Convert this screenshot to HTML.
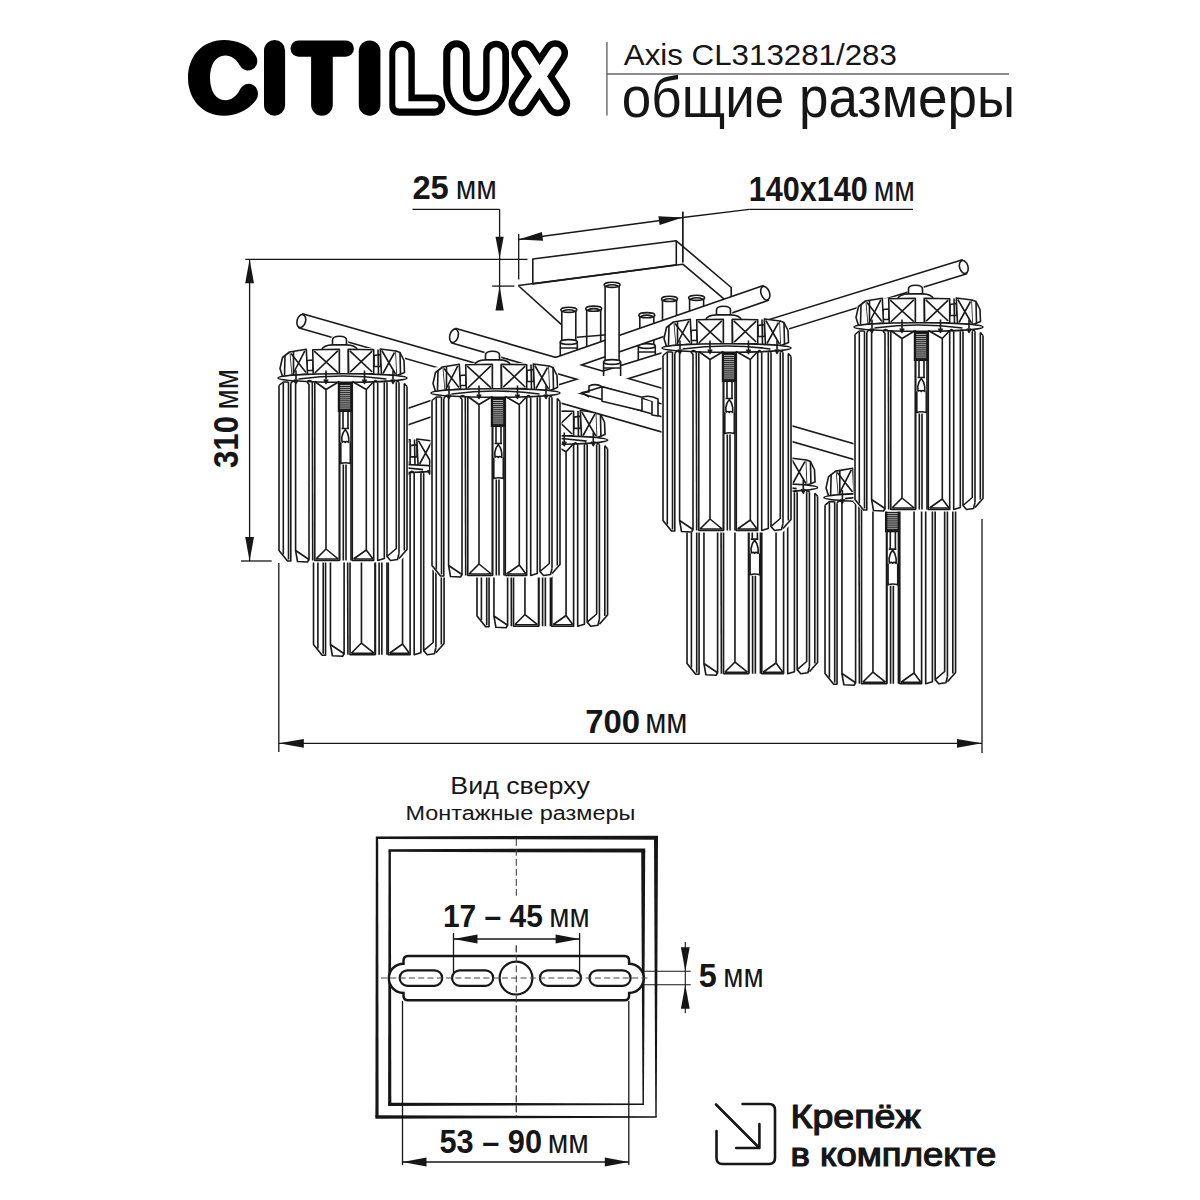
<!DOCTYPE html>
<html><head><meta charset="utf-8"><style>
html,body{margin:0;padding:0;background:#fff;width:1200px;height:1200px;overflow:hidden}
svg{display:block;font-family:"Liberation Sans",sans-serif}
</style></head><body>
<svg width="1200" height="1200" viewBox="0 0 1200 1200">
<rect width="1200" height="1200" fill="#fff"/>
<path d="M257.3 61 C257.3 66.5 253 70.5 248 70.5 C244 70.5 241.5 68 239.5 65 C236.5 59.5 231.5 55.5 225.3 55.5 C215.5 55.5 210 65 210 77.8 C210 90.5 215.5 100.2 225.3 100.2 C231.5 100.2 236 96 239 91.5 C241 87 244.5 83.8 248.5 83.8 C253.8 83.8 258 88.2 258 94 C258 97 256.5 100 254 102.5 C247 110.5 236 115.7 224 115.7 C202 115.7 188 99 188 77.8 C188 56.5 202 40 224 40 C237 40 248 45 254 53 C256 55.5 257.3 58 257.3 61 Z" fill="#000"/>
<line x1="274.55" y1="50.45" x2="274.55" y2="105.15" stroke="#000" stroke-width="21.1" stroke-linecap="round"/>
<line x1="298.65" y1="48.55" x2="345.75" y2="48.55" stroke="#000" stroke-width="16.3" stroke-linecap="round"/>
<line x1="321.95" y1="52" x2="321.95" y2="104.85" stroke="#000" stroke-width="21.7" stroke-linecap="round"/>
<line x1="369.6" y1="51.2" x2="369.6" y2="104.9" stroke="#000" stroke-width="21.6" stroke-linecap="round"/>
<path d="M389.3 53.5 A12.75 12.75 0 0 1 414.8 53.5 L414.8 94.5 L434.7 94.5 A10.6 10.6 0 0 1 434.7 115.7 L400 115.7 Q389.3 115.7 389.3 105 Z" fill="#000"/>
<path d="M443.2 53.5 A13.25 13.25 0 0 1 469.7 53.5 L469.7 88.5 A6.75 6.75 0 0 0 483.2 88.5 L483.2 53.5 A12.9 12.9 0 0 1 509 53.5 L509 84 C509 103 494 115.7 476.1 115.7 C458.2 115.7 443.2 103 443.2 84 Z" fill="#000"/>
<path d="M524.1 53 L557.4 103.5" fill="none" stroke="#000" stroke-width="25.5" stroke-linecap="round"/>
<path d="M555.3 53 L521.3 103.5" fill="none" stroke="#000" stroke-width="25.5" stroke-linecap="round"/>
<path d="M395.3 53.5 A6.55 6.55 0 0 1 408.4 53.5 L408.4 101.2 L434.9 101.2 A3.6 3.6 0 0 1 434.9 108.4 L399.3 108.4 Q395.3 108.4 395.3 104.4 Z" fill="#fff"/>
<path d="M450.3 53.65 A6.35 6.35 0 0 1 463 53.65 L463 88 C463 96 468 101.6 476.3 101.6 C484.6 101.6 489.6 96 489.6 88 L489.6 53.65 A6.35 6.35 0 0 1 502.3 53.65 L502.3 84 C502.3 100 491 110 476.3 110 C461.6 110 450.3 100 450.3 84 Z" fill="#fff"/>
<path d="M524.1 53 L557.4 103.5" fill="none" stroke="#fff" stroke-width="12.5" stroke-linecap="round"/>
<path d="M555.3 53 L521.3 103.5" fill="none" stroke="#fff" stroke-width="12.5" stroke-linecap="round"/>
<line x1="606.9" y1="42" x2="606.9" y2="115.5" stroke="#888" stroke-width="1.8"/>
<line x1="607" y1="74" x2="1009" y2="74" stroke="#666" stroke-width="1.6"/>
<text x="623.79" y="64.8" font-size="30" textLength="273.13" lengthAdjust="spacingAndGlyphs" fill="#161616">Axis CL313281/283</text>
<text x="621.86" y="116.6" font-size="56.5" textLength="393.23" lengthAdjust="spacingAndGlyphs" fill="#161616">общие размеры</text>
<text x="412.41" y="198.8" font-size="32.65" font-weight="bold" textLength="36.42" lengthAdjust="spacingAndGlyphs" fill="#161616">25</text><text x="455.8" y="198.8" font-size="33.63" textLength="41.12" lengthAdjust="spacingAndGlyphs" fill="#161616">мм</text>
<text x="748.74" y="201.2" font-size="34.16" font-weight="bold" textLength="118.94" lengthAdjust="spacingAndGlyphs" fill="#161616">140x140</text><text x="873.69" y="201.2" font-size="35.18" textLength="41.34" lengthAdjust="spacingAndGlyphs" fill="#161616">мм</text>
<text x="585.25" y="732.8" font-size="34.02" font-weight="bold" textLength="54.91" lengthAdjust="spacingAndGlyphs" fill="#161616">700</text><text x="645.13" y="732.8" font-size="35.04" textLength="42.32" lengthAdjust="spacingAndGlyphs" fill="#161616">мм</text>
<text x="442.93" y="927.1" font-size="32.24" font-weight="bold" textLength="99.92" lengthAdjust="spacingAndGlyphs" fill="#161616">17 – 45</text><text x="549.36" y="927.1" font-size="33.20" textLength="40.42" lengthAdjust="spacingAndGlyphs" fill="#161616">мм</text>
<text x="698.82" y="986.7" font-size="32.92" font-weight="bold" textLength="18.01" lengthAdjust="spacingAndGlyphs" fill="#161616">5</text><text x="723.36" y="986.7" font-size="33.91" textLength="40.42" lengthAdjust="spacingAndGlyphs" fill="#161616">мм</text>
<text x="439.51" y="1152.5" font-size="32.51" font-weight="bold" textLength="102.56" lengthAdjust="spacingAndGlyphs" fill="#161616">53 – 90</text><text x="547.73" y="1152.5" font-size="33.49" textLength="41.12" lengthAdjust="spacingAndGlyphs" fill="#161616">мм</text>
<g transform="translate(238 466.5) rotate(-90)"><text x="-1.6" y="0" font-size="34.29" font-weight="bold" textLength="52.20" lengthAdjust="spacingAndGlyphs" fill="#161616">310</text><text x="57.06" y="0" font-size="35.32" textLength="40.65" lengthAdjust="spacingAndGlyphs" fill="#161616">мм</text></g>
<line x1="412.5" y1="209.3" x2="499.6" y2="209.3" stroke="#161616" stroke-width="1.3" /><line x1="499.6" y1="209.3" x2="499.6" y2="259.0" stroke="#161616" stroke-width="1.3" />
<polygon points="499.6,258.5 495.5,236.8 503.7,236.8" fill="#161616"/>
<line x1="499.6" y1="258.0" x2="499.6" y2="310.0" stroke="#161616" stroke-width="1.3" /><polygon points="499.6,286.1 503.7,310.6 495.5,310.6" fill="#161616"/>
<line x1="492.2" y1="286.1" x2="514.4" y2="286.1" stroke="#161616" stroke-width="1.3" />
<line x1="518.7" y1="234.0" x2="518.7" y2="279.6" stroke="#161616" stroke-width="1.3" /><line x1="682.8" y1="211.7" x2="682.8" y2="262.4" stroke="#161616" stroke-width="1.3" />
<line x1="518.7" y1="239.5" x2="682.8" y2="217.5" stroke="#161616" stroke-width="1.3" /><polygon points="518.7,239.5 541.9,231.9 543.1,240.7" fill="#161616"/><polygon points="682.8,217.5 659.6,225.1 658.4,216.3" fill="#161616"/>
<line x1="682.8" y1="217.5" x2="749.3" y2="209.4" stroke="#161616" stroke-width="1.3" /><line x1="749.3" y1="209.4" x2="913.0" y2="209.4" stroke="#161616" stroke-width="1.3" />
<line x1="245.3" y1="259.3" x2="527.5" y2="259.3" stroke="#161616" stroke-width="1.3" /><line x1="249.6" y1="259.3" x2="249.6" y2="561.0" stroke="#161616" stroke-width="1.3" /><polygon points="249.6,259.3 254.0,283.3 245.2,283.3" fill="#161616"/><polygon points="249.6,561.0 245.2,537.0 254.0,537.0" fill="#161616"/>
<line x1="241.0" y1="561.0" x2="271.7" y2="561.0" stroke="#161616" stroke-width="1.3" />
<line x1="278.8" y1="563.0" x2="278.8" y2="752.0" stroke="#161616" stroke-width="1.3" /><line x1="982.0" y1="519.0" x2="982.0" y2="753.0" stroke="#161616" stroke-width="1.3" /><line x1="278.8" y1="743.3" x2="982.0" y2="743.3" stroke="#161616" stroke-width="1.3" /><polygon points="278.8,743.3 303.8,738.9 303.8,747.7" fill="#161616"/><polygon points="982.0,743.3 957.0,747.7 957.0,738.9" fill="#161616"/>
<text x="450.36" y="793.8" font-size="23" textLength="139.45" lengthAdjust="spacingAndGlyphs" fill="#161616">Вид сверху</text>
<text x="405.47" y="820.2" font-size="19.6" textLength="229.87" lengthAdjust="spacingAndGlyphs" fill="#161616">Монтажные размеры</text>
<polygon points="375.85,836.4000000000001 658.0,835.7 658.0,839.7 375.85,839.0" fill="#161616"/><polygon points="375.85,837.7 378.15,837.7 378.6,1117 375.4,1117" fill="#161616"/><polygon points="654.0,837.7 658.0,837.7 656.7,1117 655.3,1117" fill="#161616"/><polygon points="375.4,1115.35 656.7,1116.2 656.7,1117.8 375.4,1118.65" fill="#161616"/>
<polygon points="388.55,849.2 645.2,848.4 645.2,852.6 388.55,851.8" fill="#161616"/><polygon points="388.55,850.5 390.84999999999997,850.5 391.3,1104.3 388.09999999999997,1104.3" fill="#161616"/><polygon points="641.2,850.5 645.2,850.5 643.9000000000001,1104.3 642.5,1104.3" fill="#161616"/><polygon points="388.09999999999997,1102.6499999999999 643.9000000000001,1103.5 643.9000000000001,1105.1 388.09999999999997,1105.95" fill="#161616"/>
<line x1="516.3" y1="839.0" x2="516.3" y2="898.5" stroke="#444" stroke-width="1.1" stroke-dasharray="6.7 3.3"/>
<line x1="516.3" y1="945.5" x2="516.3" y2="1116.0" stroke="#444" stroke-width="1.1" stroke-dasharray="6.7 3.3"/>
<path d="M408 956 L624.6 956 Q629.1 956 629.1 961 L629.1 963.7 A14.6 14.6 0 0 1 629.1 993 L629.1 995.5 Q629.1 1000.3 624.6 1000.3 L408 1000.3 Q403.5 1000.3 403.5 995.5 L403.5 993 A14.6 14.6 0 0 1 403.5 963.7 L403.5 961 Q403.5 956 408 956 Z" fill="#fff" stroke="#161616" stroke-width="2.5"/>
<rect x="399.7" y="970.3" width="42.5" height="15.5" rx="7.75" fill="#fff" stroke="#161616" stroke-width="2.2"/>
<rect x="452.1" y="970.3" width="41.099999999999966" height="15.5" rx="7.75" fill="#fff" stroke="#161616" stroke-width="2.2"/>
<rect x="539.9" y="970.3" width="41.10000000000002" height="15.5" rx="7.75" fill="#fff" stroke="#161616" stroke-width="2.2"/>
<rect x="589.5" y="970.3" width="41.10000000000002" height="15.5" rx="7.75" fill="#fff" stroke="#161616" stroke-width="2.2"/>
<circle cx="516" cy="978.1" r="16.4" fill="#fff" stroke="#161616" stroke-width="2.2"/>
<line x1="381.0" y1="978.0" x2="650.0" y2="978.0" stroke="#444" stroke-width="1.1" stroke-dasharray="6 3.3"/>
<line x1="516.3" y1="945.5" x2="516.3" y2="1116.0" stroke="#444" stroke-width="1.1" stroke-dasharray="6.7 3.3"/>
<line x1="453.5" y1="933.0" x2="453.5" y2="973.0" stroke="#161616" stroke-width="1.3" /><line x1="579.6" y1="933.0" x2="579.6" y2="973.0" stroke="#161616" stroke-width="1.3" /><line x1="453.5" y1="939.0" x2="579.6" y2="939.0" stroke="#161616" stroke-width="1.3" /><polygon points="453.5,939.0 477.5,934.6 477.5,943.4" fill="#161616"/><polygon points="579.6,939.0 555.6,943.4 555.6,934.6" fill="#161616"/>
<line x1="402.5" y1="1001.0" x2="402.5" y2="1165.0" stroke="#161616" stroke-width="1.3" /><line x1="628.8" y1="1001.0" x2="628.8" y2="1165.0" stroke="#161616" stroke-width="1.3" /><line x1="402.5" y1="1162.0" x2="628.8" y2="1162.0" stroke="#161616" stroke-width="1.3" /><polygon points="402.5,1162.0 426.5,1157.6 426.5,1166.4" fill="#161616"/><polygon points="628.8,1162.0 604.8,1166.4 604.8,1157.6" fill="#161616"/>
<line x1="644.0" y1="971.3" x2="690.7" y2="971.3" stroke="#161616" stroke-width="1.1" /><line x1="644.0" y1="984.7" x2="690.7" y2="984.7" stroke="#161616" stroke-width="1.1" /><line x1="685.3" y1="942.0" x2="685.3" y2="1013.3" stroke="#161616" stroke-width="1.1" /><polygon points="685.3,971.3 680.9,947.3 689.7,947.3" fill="#161616"/><polygon points="685.3,984.7 689.7,1008.7 680.9,1008.7" fill="#161616"/>
<path d="M716.5 1131 L716.5 1158 Q716.5 1164 722.5 1164 L769 1164 Q775 1164 775 1158 L775 1110 Q775 1104 769 1104 L742.6 1104" fill="none" stroke="#161616" stroke-width="2.6" stroke-linecap="round"/>
<path d="M716 1104.5 L759.4 1148 M759.4 1124 L759.4 1148 L736.2 1148" fill="none" stroke="#161616" stroke-width="2.6" stroke-linecap="round" stroke-linejoin="round"/>
<text x="790.54" y="1128" font-size="34" textLength="130.1" lengthAdjust="spacingAndGlyphs" fill="#161616" stroke="#161616" stroke-width="1.2">Крепёж</text>
<text x="790.55" y="1165.6" font-size="34" textLength="205.72" lengthAdjust="spacingAndGlyphs" fill="#161616" stroke="#161616" stroke-width="1.2">в комплекте</text>
<path d="M532.8 259 L676.3 240.8 L676.3 264.9 L532.8 283.9 Z" stroke="#1a1a1a" stroke-width="1.6" fill="#fff" stroke-linejoin="round"/>
<path d="M518.2 285.5 L682.8 264.2 L724.2 299.2 M676.3 240.8 L731.2 287.5 L731.2 296.9 M518.2 285.5 L563.7 326.7" stroke="#1a1a1a" stroke-width="1.6" fill="none" stroke-linejoin="round"/>
<line x1="682.8" y1="211.7" x2="682.8" y2="262.4" stroke="#161616" stroke-width="1.3" />
<rect x="561.8" y="309.8" width="14" height="32.19999999999999" fill="#fff" stroke="none"/><path d="M561.8 309.8 L561.8 342 M575.8 309.8 L575.8 342" stroke="#1a1a1a" stroke-width="1.6" fill="none" stroke-linejoin="round"/><ellipse cx="568.8" cy="309.8" rx="8.0" ry="2.6" stroke="#1a1a1a" stroke-width="1.6" fill="#fff" stroke-linejoin="round"/><path d="M562.8 311.0 Q568.8 308.40000000000003 574.8 311.0" stroke="#1a1a1a" stroke-width="1.6" fill="none" stroke-linejoin="round"/><path d="M560.3 342 L560.3 348 L577.3 348 L577.3 342 Z" stroke="#1a1a1a" stroke-width="1.6" fill="#fff" stroke-linejoin="round"/><ellipse cx="568.8" cy="342" rx="8.5" ry="2.4" stroke="#1a1a1a" stroke-width="1.6" fill="#fff" stroke-linejoin="round"/><path d="M560.3 348 L560.3 356 M577.3 348 L577.3 356" stroke="#1a1a1a" stroke-width="1.6" fill="none" stroke-linejoin="round"/>
<rect x="586.7" y="308.7" width="14" height="41.30000000000001" fill="#fff" stroke="none"/><path d="M586.7 308.7 L586.7 350 M600.7 308.7 L600.7 350" stroke="#1a1a1a" stroke-width="1.6" fill="none" stroke-linejoin="round"/><ellipse cx="593.7" cy="308.7" rx="8.0" ry="2.6" stroke="#1a1a1a" stroke-width="1.6" fill="#fff" stroke-linejoin="round"/><path d="M587.7 309.9 Q593.7 307.3 599.7 309.9" stroke="#1a1a1a" stroke-width="1.6" fill="none" stroke-linejoin="round"/>
<rect x="639.8" y="315.2" width="14" height="30.80000000000001" fill="#fff" stroke="none"/><path d="M639.8 315.2 L639.8 346 M653.8 315.2 L653.8 346" stroke="#1a1a1a" stroke-width="1.6" fill="none" stroke-linejoin="round"/><ellipse cx="646.8" cy="315.2" rx="8.0" ry="2.6" stroke="#1a1a1a" stroke-width="1.6" fill="#fff" stroke-linejoin="round"/><path d="M640.8 316.4 Q646.8 313.8 652.8 316.4" stroke="#1a1a1a" stroke-width="1.6" fill="none" stroke-linejoin="round"/><path d="M638.3 346 L638.3 352 L655.3 352 L655.3 346 Z" stroke="#1a1a1a" stroke-width="1.6" fill="#fff" stroke-linejoin="round"/><ellipse cx="646.8" cy="346" rx="8.5" ry="2.4" stroke="#1a1a1a" stroke-width="1.6" fill="#fff" stroke-linejoin="round"/><path d="M638.3 352 L638.3 360 M655.3 352 L655.3 360" stroke="#1a1a1a" stroke-width="1.6" fill="none" stroke-linejoin="round"/>
<rect x="662.5" y="298.9" width="14" height="36.10000000000002" fill="#fff" stroke="none"/><path d="M662.5 298.9 L662.5 335 M676.5 298.9 L676.5 335" stroke="#1a1a1a" stroke-width="1.6" fill="none" stroke-linejoin="round"/><ellipse cx="669.5" cy="298.9" rx="8.0" ry="2.6" stroke="#1a1a1a" stroke-width="1.6" fill="#fff" stroke-linejoin="round"/><path d="M663.5 300.09999999999997 Q669.5 297.5 675.5 300.09999999999997" stroke="#1a1a1a" stroke-width="1.6" fill="none" stroke-linejoin="round"/>
<rect x="689.6" y="297.8" width="14" height="32.19999999999999" fill="#fff" stroke="none"/><path d="M689.6 297.8 L689.6 330 M703.6 297.8 L703.6 330" stroke="#1a1a1a" stroke-width="1.6" fill="none" stroke-linejoin="round"/><ellipse cx="696.6" cy="297.8" rx="8.0" ry="2.6" stroke="#1a1a1a" stroke-width="1.6" fill="#fff" stroke-linejoin="round"/><path d="M690.6 299.0 Q696.6 296.40000000000003 702.6 299.0" stroke="#1a1a1a" stroke-width="1.6" fill="none" stroke-linejoin="round"/>
<g transform="translate(313 438.5) scale(1.02)">
<path d="M-1 34 L-1 204 L9 214 L120 214 L130 204 L130 34 L128 26 L126 4 L96 0 L78 -1 L70 -4 L69 -12 L53 -12 L53 -4 L45 -1 L30 1 L3 4 Z" fill="#fff" stroke="none"/>
<path d="M54 -3.4 L54 -8.5 Q54 -12.3 61 -12.3 Q68 -12.3 68 -8.5 L68 -3.4" stroke="#1a1a1a" stroke-width="1.6" fill="#fff" stroke-linejoin="round"/>
<path d="M43 1.5 Q45 -3.5 54 -3.6 L68 -3.6 Q77 -3.5 79 1.5" stroke="#1a1a1a" stroke-width="1.6" fill="#fff" stroke-linejoin="round"/>
<path d="M60.8 1 L60.8 27 M69.8 1 L69.8 27" stroke="#1a1a1a" stroke-width="1.6" fill="none" stroke-linejoin="round"/>
<path d="M28.5 12 L34.5 11.5 L34.5 22 L28.5 22 Z" stroke="#1a1a1a" stroke-width="1.6" fill="#fff" stroke-linejoin="round"/>
<path d="M95.5 7 L102 6 L102 18 L95.5 18 Z" stroke="#1a1a1a" stroke-width="1.6" fill="#fff" stroke-linejoin="round"/>
<polygon points="34.2,1.2 60.8,0.8 60.8,25.6 34.8,26" stroke="#1a1a1a" stroke-width="1.6" fill="#fff" stroke-linejoin="round"/>
<path d="M35.7 2.7 L59.3 24.1 M59.3 2.3 L36.3 24.5" stroke="#1a1a1a" stroke-width="1.6" fill="none" stroke-linejoin="round"/>
<polygon points="69.8,0.8 95.2,1.2 95.2,25 70.2,25.2" stroke="#1a1a1a" stroke-width="1.6" fill="#fff" stroke-linejoin="round"/>
<path d="M71.3 2.3 L93.7 23.5 M93.7 2.7 L71.7 23.7" stroke="#1a1a1a" stroke-width="1.6" fill="none" stroke-linejoin="round"/>
<polygon points="11,3.5 27.8,0.8 29,25.5 13,27" stroke="#1a1a1a" stroke-width="1.6" fill="#fff" stroke-linejoin="round"/>
<path d="M12.5 5.0 L27.5 24.0 M26.3 2.3 L14.5 25.5" stroke="#1a1a1a" stroke-width="1.6" fill="none" stroke-linejoin="round"/>
<polygon points="101.8,0.5 117.5,2.5 118.5,27 103,26.5" stroke="#1a1a1a" stroke-width="1.6" fill="#fff" stroke-linejoin="round"/>
<path d="M103.3 2.0 L117.0 25.5 M116.0 4.0 L104.5 25.0" stroke="#1a1a1a" stroke-width="1.6" fill="none" stroke-linejoin="round"/>
<path d="M15 3 L15 26.5 M99.5 1 L100 26" stroke="#1a1a1a" stroke-width="1.6" fill="none" stroke-linejoin="round"/>
<path d="M11 3.5 L4 9 L1.5 20 L4 28 L13 27" stroke="#1a1a1a" stroke-width="1.6" fill="#fff" stroke-linejoin="round"/>
<path d="M6.5 7 L6 27" stroke="#1a1a1a" stroke-width="1.6" fill="none" stroke-linejoin="round"/>
<path d="M117.5 2.5 L121.5 4 L125.5 12 L126 24 L118.5 27" stroke="#1a1a1a" stroke-width="1.6" fill="#fff" stroke-linejoin="round"/>
<path d="M121.5 4 L122 26" stroke="#1a1a1a" stroke-width="1.6" fill="none" stroke-linejoin="round"/>
<ellipse cx="64" cy="29.5" rx="64.5" ry="4.3" stroke="#1a1a1a" stroke-width="1.6" fill="#fff" stroke-linejoin="round"/>
<path d="M20 30.5 Q64 24.5 108 30.5" stroke="#1a1a1a" stroke-width="1.6" fill="none" stroke-linejoin="round"/>
<path d="M17.5 22 L17.5 35 M15.5 31 L17.5 35 L19.5 31" stroke="#1a1a1a" stroke-width="1.6" fill="none" stroke-linejoin="round"/>
<path d="M47.5 22 L47.5 35 M45.5 31 L47.5 35 L49.5 31" stroke="#1a1a1a" stroke-width="1.6" fill="none" stroke-linejoin="round"/>
<path d="M86 22 L86 35 M84 31 L86 35 L88 31" stroke="#1a1a1a" stroke-width="1.6" fill="none" stroke-linejoin="round"/>
<path d="M114.5 22 L114.5 35 M112.5 31 L114.5 35 L116.5 31" stroke="#1a1a1a" stroke-width="1.6" fill="none" stroke-linejoin="round"/>
<rect x="60" y="34.5" width="12.9" height="28.3" fill="#222" stroke="#111" stroke-width="1.4"/>
<path d="M61.2 37.00 L71.7 37.00 M61.2 39.05 L71.7 39.05 M61.2 41.10 L71.7 41.10 M61.2 43.15 L71.7 43.15 M61.2 45.20 L71.7 45.20 M61.2 47.25 L71.7 47.25 M61.2 49.30 L71.7 49.30 M61.2 51.35 L71.7 51.35 M61.2 53.40 L71.7 53.40 M61.2 55.45 L71.7 55.45 M61.2 57.50 L71.7 57.50 M61.2 59.55 L71.7 59.55" stroke="#fff" stroke-width="0.75" fill="none" opacity="0.85"/>
<path d="M0.5 37 L0.5 202 L9 212.5 L12.3 212.5" stroke="#1a1a1a" stroke-width="1.6" fill="none" stroke-linejoin="round"/>
<path d="M0.5 37 L4.8 33.5 L10 33.5" stroke="#1a1a1a" stroke-width="1.6" fill="none" stroke-linejoin="round"/>
<path d="M4.8 34 L4.8 206" stroke="#1a1a1a" stroke-width="1.6" fill="none" stroke-linejoin="round"/>
<path d="M10 33.5 L10 211" stroke="#1a1a1a" stroke-width="1.6" fill="none" stroke-linejoin="round"/>
<path d="M12.3 35 L12.3 213" stroke="#1a1a1a" stroke-width="1.6" fill="none" stroke-linejoin="round"/>
<path d="M17.1 34 L17.1 202 L30.5 211 L30.5 36 L28.5 33.5" stroke="#1a1a1a" stroke-width="1.6" fill="none" stroke-linejoin="round"/>
<path d="M17.1 202 L19 213 L29 213.5 L30.5 211" stroke="#1a1a1a" stroke-width="1.6" fill="none" stroke-linejoin="round"/>
<path d="M33.8 33.5 L34.2 212" stroke="#1a1a1a" stroke-width="1.6" fill="none" stroke-linejoin="round"/>
<path d="M12.3 35 Q14.5 31 17.1 34" stroke="#1a1a1a" stroke-width="1.6" fill="none" stroke-linejoin="round"/>
<path d="M28.5 33.5 Q31 30.5 33.8 33.5" stroke="#1a1a1a" stroke-width="1.6" fill="none" stroke-linejoin="round"/>
<path d="M36.3 33 L36.3 212 L60.8 212 L60.8 33" stroke="#1a1a1a" stroke-width="1.6" fill="none" stroke-linejoin="round"/>
<path d="M36.3 33 L47.5 41 L60.8 33 M47.5 41 L47.5 200.5 L37.5 210.5 M47.5 200.5 L59.8 210.5 M37.5 210.5 L59.8 210.5" stroke="#1a1a1a" stroke-width="1.6" fill="none" stroke-linejoin="round"/>
<path d="M61.2 62.5 L61.2 212 M72.5 62.5 L72.5 212" stroke="#1a1a1a" stroke-width="1.6" fill="none" stroke-linejoin="round"/>
<path d="M64.5 62.5 L64.5 80 M69.5 62.5 L69.5 80 M63 80 L70.5 80" stroke="#1a1a1a" stroke-width="1.6" fill="none" stroke-linejoin="round"/>
<path d="M63.5 94 L63.3 89 Q64 84 66.8 81 Q69.5 84 70.2 89 L70.3 94 Q68 92 66.8 94 Q65.5 92 63.5 94" stroke="#1a1a1a" stroke-width="1.6" fill="none" stroke-linejoin="round"/>
<path d="M62.3 94 L62.3 115 Q66.8 113.5 71.8 115 L71.8 94" stroke="#1a1a1a" stroke-width="1.6" fill="none" stroke-linejoin="round"/>
<path d="M64.8 116 L64.8 212 M67.5 116 L67.5 212" stroke="#1a1a1a" stroke-width="1.6" fill="none" stroke-linejoin="round"/>
<path d="M73.8 33 L73.8 212 L95.2 212 L95.2 33" stroke="#1a1a1a" stroke-width="1.6" fill="none" stroke-linejoin="round"/>
<path d="M73.8 33 L87.8 41 L95.2 33 M87.8 41 L87.8 201.5 L75 210.5 M87.8 201.5 L94.5 210.5 M75 210.5 L94.5 210.5" stroke="#1a1a1a" stroke-width="1.6" fill="none" stroke-linejoin="round"/>
<path d="M99.2 34 L99.2 212 L105.8 210 L105.8 34" stroke="#1a1a1a" stroke-width="1.6" fill="none" stroke-linejoin="round"/>
<path d="M108.5 34 L108.5 208 L117.8 200 L117.8 34" stroke="#1a1a1a" stroke-width="1.6" fill="none" stroke-linejoin="round"/>
<path d="M108.5 208 L112 212 L119 211 L120.5 205" stroke="#1a1a1a" stroke-width="1.6" fill="none" stroke-linejoin="round"/>
<path d="M120.5 34 L120.5 205" stroke="#1a1a1a" stroke-width="1.6" fill="none" stroke-linejoin="round"/>
<path d="M125.8 35 L125.8 202" stroke="#1a1a1a" stroke-width="1.6" fill="none" stroke-linejoin="round"/>
<path d="M128.5 38 L128.5 201 L120.5 210" stroke="#1a1a1a" stroke-width="1.6" fill="none" stroke-linejoin="round"/>
<path d="M125.8 35 L128.5 38" stroke="#1a1a1a" stroke-width="1.6" fill="none" stroke-linejoin="round"/>
<path d="M95.2 33.5 Q97 30.5 99.2 34" stroke="#1a1a1a" stroke-width="1.6" fill="none" stroke-linejoin="round"/>
<path d="M105.8 34 Q107 31 108.5 34" stroke="#1a1a1a" stroke-width="1.6" fill="none" stroke-linejoin="round"/>
<path d="M117.8 34 Q119 31.5 120.5 34" stroke="#1a1a1a" stroke-width="1.6" fill="none" stroke-linejoin="round"/>
</g>
<g transform="translate(476.5 410) scale(1.02)">
<path d="M-1 34 L-1 204 L9 214 L120 214 L130 204 L130 34 L128 26 L126 4 L96 0 L78 -1 L70 -4 L69 -12 L53 -12 L53 -4 L45 -1 L30 1 L3 4 Z" fill="#fff" stroke="none"/>
<path d="M54 -3.4 L54 -8.5 Q54 -12.3 61 -12.3 Q68 -12.3 68 -8.5 L68 -3.4" stroke="#1a1a1a" stroke-width="1.6" fill="#fff" stroke-linejoin="round"/>
<path d="M43 1.5 Q45 -3.5 54 -3.6 L68 -3.6 Q77 -3.5 79 1.5" stroke="#1a1a1a" stroke-width="1.6" fill="#fff" stroke-linejoin="round"/>
<path d="M60.8 1 L60.8 27 M69.8 1 L69.8 27" stroke="#1a1a1a" stroke-width="1.6" fill="none" stroke-linejoin="round"/>
<path d="M28.5 12 L34.5 11.5 L34.5 22 L28.5 22 Z" stroke="#1a1a1a" stroke-width="1.6" fill="#fff" stroke-linejoin="round"/>
<path d="M95.5 7 L102 6 L102 18 L95.5 18 Z" stroke="#1a1a1a" stroke-width="1.6" fill="#fff" stroke-linejoin="round"/>
<polygon points="34.2,1.2 60.8,0.8 60.8,25.6 34.8,26" stroke="#1a1a1a" stroke-width="1.6" fill="#fff" stroke-linejoin="round"/>
<path d="M35.7 2.7 L59.3 24.1 M59.3 2.3 L36.3 24.5" stroke="#1a1a1a" stroke-width="1.6" fill="none" stroke-linejoin="round"/>
<polygon points="69.8,0.8 95.2,1.2 95.2,25 70.2,25.2" stroke="#1a1a1a" stroke-width="1.6" fill="#fff" stroke-linejoin="round"/>
<path d="M71.3 2.3 L93.7 23.5 M93.7 2.7 L71.7 23.7" stroke="#1a1a1a" stroke-width="1.6" fill="none" stroke-linejoin="round"/>
<polygon points="11,3.5 27.8,0.8 29,25.5 13,27" stroke="#1a1a1a" stroke-width="1.6" fill="#fff" stroke-linejoin="round"/>
<path d="M12.5 5.0 L27.5 24.0 M26.3 2.3 L14.5 25.5" stroke="#1a1a1a" stroke-width="1.6" fill="none" stroke-linejoin="round"/>
<polygon points="101.8,0.5 117.5,2.5 118.5,27 103,26.5" stroke="#1a1a1a" stroke-width="1.6" fill="#fff" stroke-linejoin="round"/>
<path d="M103.3 2.0 L117.0 25.5 M116.0 4.0 L104.5 25.0" stroke="#1a1a1a" stroke-width="1.6" fill="none" stroke-linejoin="round"/>
<path d="M15 3 L15 26.5 M99.5 1 L100 26" stroke="#1a1a1a" stroke-width="1.6" fill="none" stroke-linejoin="round"/>
<path d="M11 3.5 L4 9 L1.5 20 L4 28 L13 27" stroke="#1a1a1a" stroke-width="1.6" fill="#fff" stroke-linejoin="round"/>
<path d="M6.5 7 L6 27" stroke="#1a1a1a" stroke-width="1.6" fill="none" stroke-linejoin="round"/>
<path d="M117.5 2.5 L121.5 4 L125.5 12 L126 24 L118.5 27" stroke="#1a1a1a" stroke-width="1.6" fill="#fff" stroke-linejoin="round"/>
<path d="M121.5 4 L122 26" stroke="#1a1a1a" stroke-width="1.6" fill="none" stroke-linejoin="round"/>
<ellipse cx="64" cy="29.5" rx="64.5" ry="4.3" stroke="#1a1a1a" stroke-width="1.6" fill="#fff" stroke-linejoin="round"/>
<path d="M20 30.5 Q64 24.5 108 30.5" stroke="#1a1a1a" stroke-width="1.6" fill="none" stroke-linejoin="round"/>
<path d="M17.5 22 L17.5 35 M15.5 31 L17.5 35 L19.5 31" stroke="#1a1a1a" stroke-width="1.6" fill="none" stroke-linejoin="round"/>
<path d="M47.5 22 L47.5 35 M45.5 31 L47.5 35 L49.5 31" stroke="#1a1a1a" stroke-width="1.6" fill="none" stroke-linejoin="round"/>
<path d="M86 22 L86 35 M84 31 L86 35 L88 31" stroke="#1a1a1a" stroke-width="1.6" fill="none" stroke-linejoin="round"/>
<path d="M114.5 22 L114.5 35 M112.5 31 L114.5 35 L116.5 31" stroke="#1a1a1a" stroke-width="1.6" fill="none" stroke-linejoin="round"/>
<rect x="60" y="34.5" width="12.9" height="28.3" fill="#222" stroke="#111" stroke-width="1.4"/>
<path d="M61.2 37.00 L71.7 37.00 M61.2 39.05 L71.7 39.05 M61.2 41.10 L71.7 41.10 M61.2 43.15 L71.7 43.15 M61.2 45.20 L71.7 45.20 M61.2 47.25 L71.7 47.25 M61.2 49.30 L71.7 49.30 M61.2 51.35 L71.7 51.35 M61.2 53.40 L71.7 53.40 M61.2 55.45 L71.7 55.45 M61.2 57.50 L71.7 57.50 M61.2 59.55 L71.7 59.55" stroke="#fff" stroke-width="0.75" fill="none" opacity="0.85"/>
<path d="M0.5 37 L0.5 202 L9 212.5 L12.3 212.5" stroke="#1a1a1a" stroke-width="1.6" fill="none" stroke-linejoin="round"/>
<path d="M0.5 37 L4.8 33.5 L10 33.5" stroke="#1a1a1a" stroke-width="1.6" fill="none" stroke-linejoin="round"/>
<path d="M4.8 34 L4.8 206" stroke="#1a1a1a" stroke-width="1.6" fill="none" stroke-linejoin="round"/>
<path d="M10 33.5 L10 211" stroke="#1a1a1a" stroke-width="1.6" fill="none" stroke-linejoin="round"/>
<path d="M12.3 35 L12.3 213" stroke="#1a1a1a" stroke-width="1.6" fill="none" stroke-linejoin="round"/>
<path d="M17.1 34 L17.1 202 L30.5 211 L30.5 36 L28.5 33.5" stroke="#1a1a1a" stroke-width="1.6" fill="none" stroke-linejoin="round"/>
<path d="M17.1 202 L19 213 L29 213.5 L30.5 211" stroke="#1a1a1a" stroke-width="1.6" fill="none" stroke-linejoin="round"/>
<path d="M33.8 33.5 L34.2 212" stroke="#1a1a1a" stroke-width="1.6" fill="none" stroke-linejoin="round"/>
<path d="M12.3 35 Q14.5 31 17.1 34" stroke="#1a1a1a" stroke-width="1.6" fill="none" stroke-linejoin="round"/>
<path d="M28.5 33.5 Q31 30.5 33.8 33.5" stroke="#1a1a1a" stroke-width="1.6" fill="none" stroke-linejoin="round"/>
<path d="M36.3 33 L36.3 212 L60.8 212 L60.8 33" stroke="#1a1a1a" stroke-width="1.6" fill="none" stroke-linejoin="round"/>
<path d="M36.3 33 L47.5 41 L60.8 33 M47.5 41 L47.5 200.5 L37.5 210.5 M47.5 200.5 L59.8 210.5 M37.5 210.5 L59.8 210.5" stroke="#1a1a1a" stroke-width="1.6" fill="none" stroke-linejoin="round"/>
<path d="M61.2 62.5 L61.2 212 M72.5 62.5 L72.5 212" stroke="#1a1a1a" stroke-width="1.6" fill="none" stroke-linejoin="round"/>
<path d="M64.5 62.5 L64.5 80 M69.5 62.5 L69.5 80 M63 80 L70.5 80" stroke="#1a1a1a" stroke-width="1.6" fill="none" stroke-linejoin="round"/>
<path d="M63.5 94 L63.3 89 Q64 84 66.8 81 Q69.5 84 70.2 89 L70.3 94 Q68 92 66.8 94 Q65.5 92 63.5 94" stroke="#1a1a1a" stroke-width="1.6" fill="none" stroke-linejoin="round"/>
<path d="M62.3 94 L62.3 115 Q66.8 113.5 71.8 115 L71.8 94" stroke="#1a1a1a" stroke-width="1.6" fill="none" stroke-linejoin="round"/>
<path d="M64.8 116 L64.8 212 M67.5 116 L67.5 212" stroke="#1a1a1a" stroke-width="1.6" fill="none" stroke-linejoin="round"/>
<path d="M73.8 33 L73.8 212 L95.2 212 L95.2 33" stroke="#1a1a1a" stroke-width="1.6" fill="none" stroke-linejoin="round"/>
<path d="M73.8 33 L87.8 41 L95.2 33 M87.8 41 L87.8 201.5 L75 210.5 M87.8 201.5 L94.5 210.5 M75 210.5 L94.5 210.5" stroke="#1a1a1a" stroke-width="1.6" fill="none" stroke-linejoin="round"/>
<path d="M99.2 34 L99.2 212 L105.8 210 L105.8 34" stroke="#1a1a1a" stroke-width="1.6" fill="none" stroke-linejoin="round"/>
<path d="M108.5 34 L108.5 208 L117.8 200 L117.8 34" stroke="#1a1a1a" stroke-width="1.6" fill="none" stroke-linejoin="round"/>
<path d="M108.5 208 L112 212 L119 211 L120.5 205" stroke="#1a1a1a" stroke-width="1.6" fill="none" stroke-linejoin="round"/>
<path d="M120.5 34 L120.5 205" stroke="#1a1a1a" stroke-width="1.6" fill="none" stroke-linejoin="round"/>
<path d="M125.8 35 L125.8 202" stroke="#1a1a1a" stroke-width="1.6" fill="none" stroke-linejoin="round"/>
<path d="M128.5 38 L128.5 201 L120.5 210" stroke="#1a1a1a" stroke-width="1.6" fill="none" stroke-linejoin="round"/>
<path d="M125.8 35 L128.5 38" stroke="#1a1a1a" stroke-width="1.6" fill="none" stroke-linejoin="round"/>
<path d="M95.2 33.5 Q97 30.5 99.2 34" stroke="#1a1a1a" stroke-width="1.6" fill="none" stroke-linejoin="round"/>
<path d="M105.8 34 Q107 31 108.5 34" stroke="#1a1a1a" stroke-width="1.6" fill="none" stroke-linejoin="round"/>
<path d="M117.8 34 Q119 31.5 120.5 34" stroke="#1a1a1a" stroke-width="1.6" fill="none" stroke-linejoin="round"/>
</g>
<g transform="translate(686.5 457.5) scale(1.02)">
<path d="M-1 34 L-1 204 L9 214 L120 214 L130 204 L130 34 L128 26 L126 4 L96 0 L78 -1 L70 -4 L69 -12 L53 -12 L53 -4 L45 -1 L30 1 L3 4 Z" fill="#fff" stroke="none"/>
<path d="M54 -3.4 L54 -8.5 Q54 -12.3 61 -12.3 Q68 -12.3 68 -8.5 L68 -3.4" stroke="#1a1a1a" stroke-width="1.6" fill="#fff" stroke-linejoin="round"/>
<path d="M43 1.5 Q45 -3.5 54 -3.6 L68 -3.6 Q77 -3.5 79 1.5" stroke="#1a1a1a" stroke-width="1.6" fill="#fff" stroke-linejoin="round"/>
<path d="M60.8 1 L60.8 27 M69.8 1 L69.8 27" stroke="#1a1a1a" stroke-width="1.6" fill="none" stroke-linejoin="round"/>
<path d="M28.5 12 L34.5 11.5 L34.5 22 L28.5 22 Z" stroke="#1a1a1a" stroke-width="1.6" fill="#fff" stroke-linejoin="round"/>
<path d="M95.5 7 L102 6 L102 18 L95.5 18 Z" stroke="#1a1a1a" stroke-width="1.6" fill="#fff" stroke-linejoin="round"/>
<polygon points="34.2,1.2 60.8,0.8 60.8,25.6 34.8,26" stroke="#1a1a1a" stroke-width="1.6" fill="#fff" stroke-linejoin="round"/>
<path d="M35.7 2.7 L59.3 24.1 M59.3 2.3 L36.3 24.5" stroke="#1a1a1a" stroke-width="1.6" fill="none" stroke-linejoin="round"/>
<polygon points="69.8,0.8 95.2,1.2 95.2,25 70.2,25.2" stroke="#1a1a1a" stroke-width="1.6" fill="#fff" stroke-linejoin="round"/>
<path d="M71.3 2.3 L93.7 23.5 M93.7 2.7 L71.7 23.7" stroke="#1a1a1a" stroke-width="1.6" fill="none" stroke-linejoin="round"/>
<polygon points="11,3.5 27.8,0.8 29,25.5 13,27" stroke="#1a1a1a" stroke-width="1.6" fill="#fff" stroke-linejoin="round"/>
<path d="M12.5 5.0 L27.5 24.0 M26.3 2.3 L14.5 25.5" stroke="#1a1a1a" stroke-width="1.6" fill="none" stroke-linejoin="round"/>
<polygon points="101.8,0.5 117.5,2.5 118.5,27 103,26.5" stroke="#1a1a1a" stroke-width="1.6" fill="#fff" stroke-linejoin="round"/>
<path d="M103.3 2.0 L117.0 25.5 M116.0 4.0 L104.5 25.0" stroke="#1a1a1a" stroke-width="1.6" fill="none" stroke-linejoin="round"/>
<path d="M15 3 L15 26.5 M99.5 1 L100 26" stroke="#1a1a1a" stroke-width="1.6" fill="none" stroke-linejoin="round"/>
<path d="M11 3.5 L4 9 L1.5 20 L4 28 L13 27" stroke="#1a1a1a" stroke-width="1.6" fill="#fff" stroke-linejoin="round"/>
<path d="M6.5 7 L6 27" stroke="#1a1a1a" stroke-width="1.6" fill="none" stroke-linejoin="round"/>
<path d="M117.5 2.5 L121.5 4 L125.5 12 L126 24 L118.5 27" stroke="#1a1a1a" stroke-width="1.6" fill="#fff" stroke-linejoin="round"/>
<path d="M121.5 4 L122 26" stroke="#1a1a1a" stroke-width="1.6" fill="none" stroke-linejoin="round"/>
<ellipse cx="64" cy="29.5" rx="64.5" ry="4.3" stroke="#1a1a1a" stroke-width="1.6" fill="#fff" stroke-linejoin="round"/>
<path d="M20 30.5 Q64 24.5 108 30.5" stroke="#1a1a1a" stroke-width="1.6" fill="none" stroke-linejoin="round"/>
<path d="M17.5 22 L17.5 35 M15.5 31 L17.5 35 L19.5 31" stroke="#1a1a1a" stroke-width="1.6" fill="none" stroke-linejoin="round"/>
<path d="M47.5 22 L47.5 35 M45.5 31 L47.5 35 L49.5 31" stroke="#1a1a1a" stroke-width="1.6" fill="none" stroke-linejoin="round"/>
<path d="M86 22 L86 35 M84 31 L86 35 L88 31" stroke="#1a1a1a" stroke-width="1.6" fill="none" stroke-linejoin="round"/>
<path d="M114.5 22 L114.5 35 M112.5 31 L114.5 35 L116.5 31" stroke="#1a1a1a" stroke-width="1.6" fill="none" stroke-linejoin="round"/>
<rect x="60" y="34.5" width="12.9" height="28.3" fill="#222" stroke="#111" stroke-width="1.4"/>
<path d="M61.2 37.00 L71.7 37.00 M61.2 39.05 L71.7 39.05 M61.2 41.10 L71.7 41.10 M61.2 43.15 L71.7 43.15 M61.2 45.20 L71.7 45.20 M61.2 47.25 L71.7 47.25 M61.2 49.30 L71.7 49.30 M61.2 51.35 L71.7 51.35 M61.2 53.40 L71.7 53.40 M61.2 55.45 L71.7 55.45 M61.2 57.50 L71.7 57.50 M61.2 59.55 L71.7 59.55" stroke="#fff" stroke-width="0.75" fill="none" opacity="0.85"/>
<path d="M0.5 37 L0.5 202 L9 212.5 L12.3 212.5" stroke="#1a1a1a" stroke-width="1.6" fill="none" stroke-linejoin="round"/>
<path d="M0.5 37 L4.8 33.5 L10 33.5" stroke="#1a1a1a" stroke-width="1.6" fill="none" stroke-linejoin="round"/>
<path d="M4.8 34 L4.8 206" stroke="#1a1a1a" stroke-width="1.6" fill="none" stroke-linejoin="round"/>
<path d="M10 33.5 L10 211" stroke="#1a1a1a" stroke-width="1.6" fill="none" stroke-linejoin="round"/>
<path d="M12.3 35 L12.3 213" stroke="#1a1a1a" stroke-width="1.6" fill="none" stroke-linejoin="round"/>
<path d="M17.1 34 L17.1 202 L30.5 211 L30.5 36 L28.5 33.5" stroke="#1a1a1a" stroke-width="1.6" fill="none" stroke-linejoin="round"/>
<path d="M17.1 202 L19 213 L29 213.5 L30.5 211" stroke="#1a1a1a" stroke-width="1.6" fill="none" stroke-linejoin="round"/>
<path d="M33.8 33.5 L34.2 212" stroke="#1a1a1a" stroke-width="1.6" fill="none" stroke-linejoin="round"/>
<path d="M12.3 35 Q14.5 31 17.1 34" stroke="#1a1a1a" stroke-width="1.6" fill="none" stroke-linejoin="round"/>
<path d="M28.5 33.5 Q31 30.5 33.8 33.5" stroke="#1a1a1a" stroke-width="1.6" fill="none" stroke-linejoin="round"/>
<path d="M36.3 33 L36.3 212 L60.8 212 L60.8 33" stroke="#1a1a1a" stroke-width="1.6" fill="none" stroke-linejoin="round"/>
<path d="M36.3 33 L47.5 41 L60.8 33 M47.5 41 L47.5 200.5 L37.5 210.5 M47.5 200.5 L59.8 210.5 M37.5 210.5 L59.8 210.5" stroke="#1a1a1a" stroke-width="1.6" fill="none" stroke-linejoin="round"/>
<path d="M61.2 62.5 L61.2 212 M72.5 62.5 L72.5 212" stroke="#1a1a1a" stroke-width="1.6" fill="none" stroke-linejoin="round"/>
<path d="M64.5 62.5 L64.5 80 M69.5 62.5 L69.5 80 M63 80 L70.5 80" stroke="#1a1a1a" stroke-width="1.6" fill="none" stroke-linejoin="round"/>
<path d="M63.5 94 L63.3 89 Q64 84 66.8 81 Q69.5 84 70.2 89 L70.3 94 Q68 92 66.8 94 Q65.5 92 63.5 94" stroke="#1a1a1a" stroke-width="1.6" fill="none" stroke-linejoin="round"/>
<path d="M62.3 94 L62.3 115 Q66.8 113.5 71.8 115 L71.8 94" stroke="#1a1a1a" stroke-width="1.6" fill="none" stroke-linejoin="round"/>
<path d="M64.8 116 L64.8 212 M67.5 116 L67.5 212" stroke="#1a1a1a" stroke-width="1.6" fill="none" stroke-linejoin="round"/>
<path d="M73.8 33 L73.8 212 L95.2 212 L95.2 33" stroke="#1a1a1a" stroke-width="1.6" fill="none" stroke-linejoin="round"/>
<path d="M73.8 33 L87.8 41 L95.2 33 M87.8 41 L87.8 201.5 L75 210.5 M87.8 201.5 L94.5 210.5 M75 210.5 L94.5 210.5" stroke="#1a1a1a" stroke-width="1.6" fill="none" stroke-linejoin="round"/>
<path d="M99.2 34 L99.2 212 L105.8 210 L105.8 34" stroke="#1a1a1a" stroke-width="1.6" fill="none" stroke-linejoin="round"/>
<path d="M108.5 34 L108.5 208 L117.8 200 L117.8 34" stroke="#1a1a1a" stroke-width="1.6" fill="none" stroke-linejoin="round"/>
<path d="M108.5 208 L112 212 L119 211 L120.5 205" stroke="#1a1a1a" stroke-width="1.6" fill="none" stroke-linejoin="round"/>
<path d="M120.5 34 L120.5 205" stroke="#1a1a1a" stroke-width="1.6" fill="none" stroke-linejoin="round"/>
<path d="M125.8 35 L125.8 202" stroke="#1a1a1a" stroke-width="1.6" fill="none" stroke-linejoin="round"/>
<path d="M128.5 38 L128.5 201 L120.5 210" stroke="#1a1a1a" stroke-width="1.6" fill="none" stroke-linejoin="round"/>
<path d="M125.8 35 L128.5 38" stroke="#1a1a1a" stroke-width="1.6" fill="none" stroke-linejoin="round"/>
<path d="M95.2 33.5 Q97 30.5 99.2 34" stroke="#1a1a1a" stroke-width="1.6" fill="none" stroke-linejoin="round"/>
<path d="M105.8 34 Q107 31 108.5 34" stroke="#1a1a1a" stroke-width="1.6" fill="none" stroke-linejoin="round"/>
<path d="M117.8 34 Q119 31.5 120.5 34" stroke="#1a1a1a" stroke-width="1.6" fill="none" stroke-linejoin="round"/>
</g>
<g transform="translate(824.5 467.5) scale(1.02)">
<path d="M-1 34 L-1 204 L9 214 L120 214 L130 204 L130 34 L128 26 L126 4 L96 0 L78 -1 L70 -4 L69 -12 L53 -12 L53 -4 L45 -1 L30 1 L3 4 Z" fill="#fff" stroke="none"/>
<path d="M54 -3.4 L54 -8.5 Q54 -12.3 61 -12.3 Q68 -12.3 68 -8.5 L68 -3.4" stroke="#1a1a1a" stroke-width="1.6" fill="#fff" stroke-linejoin="round"/>
<path d="M43 1.5 Q45 -3.5 54 -3.6 L68 -3.6 Q77 -3.5 79 1.5" stroke="#1a1a1a" stroke-width="1.6" fill="#fff" stroke-linejoin="round"/>
<path d="M60.8 1 L60.8 27 M69.8 1 L69.8 27" stroke="#1a1a1a" stroke-width="1.6" fill="none" stroke-linejoin="round"/>
<path d="M28.5 12 L34.5 11.5 L34.5 22 L28.5 22 Z" stroke="#1a1a1a" stroke-width="1.6" fill="#fff" stroke-linejoin="round"/>
<path d="M95.5 7 L102 6 L102 18 L95.5 18 Z" stroke="#1a1a1a" stroke-width="1.6" fill="#fff" stroke-linejoin="round"/>
<polygon points="34.2,1.2 60.8,0.8 60.8,25.6 34.8,26" stroke="#1a1a1a" stroke-width="1.6" fill="#fff" stroke-linejoin="round"/>
<path d="M35.7 2.7 L59.3 24.1 M59.3 2.3 L36.3 24.5" stroke="#1a1a1a" stroke-width="1.6" fill="none" stroke-linejoin="round"/>
<polygon points="69.8,0.8 95.2,1.2 95.2,25 70.2,25.2" stroke="#1a1a1a" stroke-width="1.6" fill="#fff" stroke-linejoin="round"/>
<path d="M71.3 2.3 L93.7 23.5 M93.7 2.7 L71.7 23.7" stroke="#1a1a1a" stroke-width="1.6" fill="none" stroke-linejoin="round"/>
<polygon points="11,3.5 27.8,0.8 29,25.5 13,27" stroke="#1a1a1a" stroke-width="1.6" fill="#fff" stroke-linejoin="round"/>
<path d="M12.5 5.0 L27.5 24.0 M26.3 2.3 L14.5 25.5" stroke="#1a1a1a" stroke-width="1.6" fill="none" stroke-linejoin="round"/>
<polygon points="101.8,0.5 117.5,2.5 118.5,27 103,26.5" stroke="#1a1a1a" stroke-width="1.6" fill="#fff" stroke-linejoin="round"/>
<path d="M103.3 2.0 L117.0 25.5 M116.0 4.0 L104.5 25.0" stroke="#1a1a1a" stroke-width="1.6" fill="none" stroke-linejoin="round"/>
<path d="M15 3 L15 26.5 M99.5 1 L100 26" stroke="#1a1a1a" stroke-width="1.6" fill="none" stroke-linejoin="round"/>
<path d="M11 3.5 L4 9 L1.5 20 L4 28 L13 27" stroke="#1a1a1a" stroke-width="1.6" fill="#fff" stroke-linejoin="round"/>
<path d="M6.5 7 L6 27" stroke="#1a1a1a" stroke-width="1.6" fill="none" stroke-linejoin="round"/>
<path d="M117.5 2.5 L121.5 4 L125.5 12 L126 24 L118.5 27" stroke="#1a1a1a" stroke-width="1.6" fill="#fff" stroke-linejoin="round"/>
<path d="M121.5 4 L122 26" stroke="#1a1a1a" stroke-width="1.6" fill="none" stroke-linejoin="round"/>
<ellipse cx="64" cy="29.5" rx="64.5" ry="4.3" stroke="#1a1a1a" stroke-width="1.6" fill="#fff" stroke-linejoin="round"/>
<path d="M20 30.5 Q64 24.5 108 30.5" stroke="#1a1a1a" stroke-width="1.6" fill="none" stroke-linejoin="round"/>
<path d="M17.5 22 L17.5 35 M15.5 31 L17.5 35 L19.5 31" stroke="#1a1a1a" stroke-width="1.6" fill="none" stroke-linejoin="round"/>
<path d="M47.5 22 L47.5 35 M45.5 31 L47.5 35 L49.5 31" stroke="#1a1a1a" stroke-width="1.6" fill="none" stroke-linejoin="round"/>
<path d="M86 22 L86 35 M84 31 L86 35 L88 31" stroke="#1a1a1a" stroke-width="1.6" fill="none" stroke-linejoin="round"/>
<path d="M114.5 22 L114.5 35 M112.5 31 L114.5 35 L116.5 31" stroke="#1a1a1a" stroke-width="1.6" fill="none" stroke-linejoin="round"/>
<rect x="60" y="34.5" width="12.9" height="28.3" fill="#222" stroke="#111" stroke-width="1.4"/>
<path d="M61.2 37.00 L71.7 37.00 M61.2 39.05 L71.7 39.05 M61.2 41.10 L71.7 41.10 M61.2 43.15 L71.7 43.15 M61.2 45.20 L71.7 45.20 M61.2 47.25 L71.7 47.25 M61.2 49.30 L71.7 49.30 M61.2 51.35 L71.7 51.35 M61.2 53.40 L71.7 53.40 M61.2 55.45 L71.7 55.45 M61.2 57.50 L71.7 57.50 M61.2 59.55 L71.7 59.55" stroke="#fff" stroke-width="0.75" fill="none" opacity="0.85"/>
<path d="M0.5 37 L0.5 202 L9 212.5 L12.3 212.5" stroke="#1a1a1a" stroke-width="1.6" fill="none" stroke-linejoin="round"/>
<path d="M0.5 37 L4.8 33.5 L10 33.5" stroke="#1a1a1a" stroke-width="1.6" fill="none" stroke-linejoin="round"/>
<path d="M4.8 34 L4.8 206" stroke="#1a1a1a" stroke-width="1.6" fill="none" stroke-linejoin="round"/>
<path d="M10 33.5 L10 211" stroke="#1a1a1a" stroke-width="1.6" fill="none" stroke-linejoin="round"/>
<path d="M12.3 35 L12.3 213" stroke="#1a1a1a" stroke-width="1.6" fill="none" stroke-linejoin="round"/>
<path d="M17.1 34 L17.1 202 L30.5 211 L30.5 36 L28.5 33.5" stroke="#1a1a1a" stroke-width="1.6" fill="none" stroke-linejoin="round"/>
<path d="M17.1 202 L19 213 L29 213.5 L30.5 211" stroke="#1a1a1a" stroke-width="1.6" fill="none" stroke-linejoin="round"/>
<path d="M33.8 33.5 L34.2 212" stroke="#1a1a1a" stroke-width="1.6" fill="none" stroke-linejoin="round"/>
<path d="M12.3 35 Q14.5 31 17.1 34" stroke="#1a1a1a" stroke-width="1.6" fill="none" stroke-linejoin="round"/>
<path d="M28.5 33.5 Q31 30.5 33.8 33.5" stroke="#1a1a1a" stroke-width="1.6" fill="none" stroke-linejoin="round"/>
<path d="M36.3 33 L36.3 212 L60.8 212 L60.8 33" stroke="#1a1a1a" stroke-width="1.6" fill="none" stroke-linejoin="round"/>
<path d="M36.3 33 L47.5 41 L60.8 33 M47.5 41 L47.5 200.5 L37.5 210.5 M47.5 200.5 L59.8 210.5 M37.5 210.5 L59.8 210.5" stroke="#1a1a1a" stroke-width="1.6" fill="none" stroke-linejoin="round"/>
<path d="M61.2 62.5 L61.2 212 M72.5 62.5 L72.5 212" stroke="#1a1a1a" stroke-width="1.6" fill="none" stroke-linejoin="round"/>
<path d="M64.5 62.5 L64.5 80 M69.5 62.5 L69.5 80 M63 80 L70.5 80" stroke="#1a1a1a" stroke-width="1.6" fill="none" stroke-linejoin="round"/>
<path d="M63.5 94 L63.3 89 Q64 84 66.8 81 Q69.5 84 70.2 89 L70.3 94 Q68 92 66.8 94 Q65.5 92 63.5 94" stroke="#1a1a1a" stroke-width="1.6" fill="none" stroke-linejoin="round"/>
<path d="M62.3 94 L62.3 115 Q66.8 113.5 71.8 115 L71.8 94" stroke="#1a1a1a" stroke-width="1.6" fill="none" stroke-linejoin="round"/>
<path d="M64.8 116 L64.8 212 M67.5 116 L67.5 212" stroke="#1a1a1a" stroke-width="1.6" fill="none" stroke-linejoin="round"/>
<path d="M73.8 33 L73.8 212 L95.2 212 L95.2 33" stroke="#1a1a1a" stroke-width="1.6" fill="none" stroke-linejoin="round"/>
<path d="M73.8 33 L87.8 41 L95.2 33 M87.8 41 L87.8 201.5 L75 210.5 M87.8 201.5 L94.5 210.5 M75 210.5 L94.5 210.5" stroke="#1a1a1a" stroke-width="1.6" fill="none" stroke-linejoin="round"/>
<path d="M99.2 34 L99.2 212 L105.8 210 L105.8 34" stroke="#1a1a1a" stroke-width="1.6" fill="none" stroke-linejoin="round"/>
<path d="M108.5 34 L108.5 208 L117.8 200 L117.8 34" stroke="#1a1a1a" stroke-width="1.6" fill="none" stroke-linejoin="round"/>
<path d="M108.5 208 L112 212 L119 211 L120.5 205" stroke="#1a1a1a" stroke-width="1.6" fill="none" stroke-linejoin="round"/>
<path d="M120.5 34 L120.5 205" stroke="#1a1a1a" stroke-width="1.6" fill="none" stroke-linejoin="round"/>
<path d="M125.8 35 L125.8 202" stroke="#1a1a1a" stroke-width="1.6" fill="none" stroke-linejoin="round"/>
<path d="M128.5 38 L128.5 201 L120.5 210" stroke="#1a1a1a" stroke-width="1.6" fill="none" stroke-linejoin="round"/>
<path d="M125.8 35 L128.5 38" stroke="#1a1a1a" stroke-width="1.6" fill="none" stroke-linejoin="round"/>
<path d="M95.2 33.5 Q97 30.5 99.2 34" stroke="#1a1a1a" stroke-width="1.6" fill="none" stroke-linejoin="round"/>
<path d="M105.8 34 Q107 31 108.5 34" stroke="#1a1a1a" stroke-width="1.6" fill="none" stroke-linejoin="round"/>
<path d="M117.8 34 Q119 31.5 120.5 34" stroke="#1a1a1a" stroke-width="1.6" fill="none" stroke-linejoin="round"/>
</g>
<path d="M299.5 327.3 L783.2 466.0 L786.8 453.4 L303.1 314.7 Z" fill="none" stroke="#1a1a1a" stroke-width="3.2" stroke-linejoin="round"/>
<path d="M452.1 342.3 L898.1 471.5 L901.9 458.5 L455.9 329.3 Z" fill="none" stroke="#1a1a1a" stroke-width="3.2" stroke-linejoin="round"/>
<path d="M763.0 286.6 L397.7 412.8 L402.3 426.0 L767.6 299.8 Z" fill="none" stroke="#1a1a1a" stroke-width="3.2" stroke-linejoin="round"/>
<path d="M961.8 260.7 L518.0 398.2 L522.0 410.8 L965.8 273.3 Z" fill="none" stroke="#1a1a1a" stroke-width="3.2" stroke-linejoin="round"/>
<path d="M299.5 327.3 L783.2 466.0 L786.8 453.4 L303.1 314.7 Z" fill="#fff" stroke="none"/>
<path d="M452.1 342.3 L898.1 471.5 L901.9 458.5 L455.9 329.3 Z" fill="#fff" stroke="none"/>
<path d="M763.0 286.6 L397.7 412.8 L402.3 426.0 L767.6 299.8 Z" fill="#fff" stroke="none"/>
<path d="M961.8 260.7 L518.0 398.2 L522.0 410.8 L965.8 273.3 Z" fill="#fff" stroke="none"/>
<ellipse cx="301.3" cy="321.0" rx="4.2" ry="6.6" transform="rotate(16.0 301.3 321.0)" stroke="#1a1a1a" stroke-width="1.6" fill="#fff" stroke-linejoin="round"/>
<ellipse cx="454.0" cy="335.8" rx="4.2" ry="6.8" transform="rotate(16.2 454.0 335.8)" stroke="#1a1a1a" stroke-width="1.6" fill="#fff" stroke-linejoin="round"/>
<ellipse cx="765.3" cy="293.2" rx="4.2" ry="7.0" transform="rotate(160.9 765.3 293.2)" stroke="#1a1a1a" stroke-width="1.6" fill="#fff" stroke-linejoin="round"/>
<ellipse cx="963.8" cy="267.0" rx="4.2" ry="6.6" transform="rotate(162.8 963.8 267.0)" stroke="#1a1a1a" stroke-width="1.6" fill="#fff" stroke-linejoin="round"/>
<path d="M602 386.7 L642 397.3 L642 410.7 L602 401.3 Z" stroke="#1a1a1a" stroke-width="1.6" fill="#fff" stroke-linejoin="round"/>
<path d="M642 397.3 Q650 394.5 658 399 L658 416 L652 415 L652 401" stroke="#1a1a1a" stroke-width="1.6" fill="#fff" stroke-linejoin="round"/>
<path d="M602 386.7 Q596 383 589 386 L589 392 L582 392.5 L589 397" stroke="#1a1a1a" stroke-width="1.6" fill="none" stroke-linejoin="round"/>
<path d="M576.7 337.3 L607.3 334.7" stroke="#1a1a1a" stroke-width="1.6" fill="none" stroke-linejoin="round"/>
<rect x="605.1" y="284.8" width="14" height="77.19999999999999" fill="#fff" stroke="none"/><path d="M605.1 284.8 L605.1 362 M619.1 284.8 L619.1 362" stroke="#1a1a1a" stroke-width="1.6" fill="none" stroke-linejoin="round"/><ellipse cx="612.1" cy="284.8" rx="8.0" ry="2.6" stroke="#1a1a1a" stroke-width="1.6" fill="#fff" stroke-linejoin="round"/><path d="M606.1 286.0 Q612.1 283.40000000000003 618.1 286.0" stroke="#1a1a1a" stroke-width="1.6" fill="none" stroke-linejoin="round"/><path d="M603.6 362 L603.6 368 L620.6 368 L620.6 362 Z" stroke="#1a1a1a" stroke-width="1.6" fill="#fff" stroke-linejoin="round"/><ellipse cx="612.1" cy="362" rx="8.5" ry="2.4" stroke="#1a1a1a" stroke-width="1.6" fill="#fff" stroke-linejoin="round"/><path d="M603.6 368 L603.6 376 M620.6 368 L620.6 376" stroke="#1a1a1a" stroke-width="1.6" fill="none" stroke-linejoin="round"/>
<g transform="translate(278.5 348.5)">
<path d="M-1 34 L-1 204 L9 214 L120 214 L130 204 L130 34 L128 26 L126 4 L96 0 L78 -1 L70 -4 L69 -12 L53 -12 L53 -4 L45 -1 L30 1 L3 4 Z" fill="#fff" stroke="none"/>
<path d="M54 -3.4 L54 -8.5 Q54 -12.3 61 -12.3 Q68 -12.3 68 -8.5 L68 -3.4" stroke="#1a1a1a" stroke-width="1.6" fill="#fff" stroke-linejoin="round"/>
<path d="M43 1.5 Q45 -3.5 54 -3.6 L68 -3.6 Q77 -3.5 79 1.5" stroke="#1a1a1a" stroke-width="1.6" fill="#fff" stroke-linejoin="round"/>
<path d="M60.8 1 L60.8 27 M69.8 1 L69.8 27" stroke="#1a1a1a" stroke-width="1.6" fill="none" stroke-linejoin="round"/>
<path d="M28.5 12 L34.5 11.5 L34.5 22 L28.5 22 Z" stroke="#1a1a1a" stroke-width="1.6" fill="#fff" stroke-linejoin="round"/>
<path d="M95.5 7 L102 6 L102 18 L95.5 18 Z" stroke="#1a1a1a" stroke-width="1.6" fill="#fff" stroke-linejoin="round"/>
<polygon points="34.2,1.2 60.8,0.8 60.8,25.6 34.8,26" stroke="#1a1a1a" stroke-width="1.6" fill="#fff" stroke-linejoin="round"/>
<path d="M35.7 2.7 L59.3 24.1 M59.3 2.3 L36.3 24.5" stroke="#1a1a1a" stroke-width="1.6" fill="none" stroke-linejoin="round"/>
<polygon points="69.8,0.8 95.2,1.2 95.2,25 70.2,25.2" stroke="#1a1a1a" stroke-width="1.6" fill="#fff" stroke-linejoin="round"/>
<path d="M71.3 2.3 L93.7 23.5 M93.7 2.7 L71.7 23.7" stroke="#1a1a1a" stroke-width="1.6" fill="none" stroke-linejoin="round"/>
<polygon points="11,3.5 27.8,0.8 29,25.5 13,27" stroke="#1a1a1a" stroke-width="1.6" fill="#fff" stroke-linejoin="round"/>
<path d="M12.5 5.0 L27.5 24.0 M26.3 2.3 L14.5 25.5" stroke="#1a1a1a" stroke-width="1.6" fill="none" stroke-linejoin="round"/>
<polygon points="101.8,0.5 117.5,2.5 118.5,27 103,26.5" stroke="#1a1a1a" stroke-width="1.6" fill="#fff" stroke-linejoin="round"/>
<path d="M103.3 2.0 L117.0 25.5 M116.0 4.0 L104.5 25.0" stroke="#1a1a1a" stroke-width="1.6" fill="none" stroke-linejoin="round"/>
<path d="M15 3 L15 26.5 M99.5 1 L100 26" stroke="#1a1a1a" stroke-width="1.6" fill="none" stroke-linejoin="round"/>
<path d="M11 3.5 L4 9 L1.5 20 L4 28 L13 27" stroke="#1a1a1a" stroke-width="1.6" fill="#fff" stroke-linejoin="round"/>
<path d="M6.5 7 L6 27" stroke="#1a1a1a" stroke-width="1.6" fill="none" stroke-linejoin="round"/>
<path d="M117.5 2.5 L121.5 4 L125.5 12 L126 24 L118.5 27" stroke="#1a1a1a" stroke-width="1.6" fill="#fff" stroke-linejoin="round"/>
<path d="M121.5 4 L122 26" stroke="#1a1a1a" stroke-width="1.6" fill="none" stroke-linejoin="round"/>
<ellipse cx="64" cy="29.5" rx="64.5" ry="4.3" stroke="#1a1a1a" stroke-width="1.6" fill="#fff" stroke-linejoin="round"/>
<path d="M20 30.5 Q64 24.5 108 30.5" stroke="#1a1a1a" stroke-width="1.6" fill="none" stroke-linejoin="round"/>
<path d="M17.5 22 L17.5 35 M15.5 31 L17.5 35 L19.5 31" stroke="#1a1a1a" stroke-width="1.6" fill="none" stroke-linejoin="round"/>
<path d="M47.5 22 L47.5 35 M45.5 31 L47.5 35 L49.5 31" stroke="#1a1a1a" stroke-width="1.6" fill="none" stroke-linejoin="round"/>
<path d="M86 22 L86 35 M84 31 L86 35 L88 31" stroke="#1a1a1a" stroke-width="1.6" fill="none" stroke-linejoin="round"/>
<path d="M114.5 22 L114.5 35 M112.5 31 L114.5 35 L116.5 31" stroke="#1a1a1a" stroke-width="1.6" fill="none" stroke-linejoin="round"/>
<rect x="60" y="34.5" width="12.9" height="28.3" fill="#222" stroke="#111" stroke-width="1.4"/>
<path d="M61.2 37.00 L71.7 37.00 M61.2 39.05 L71.7 39.05 M61.2 41.10 L71.7 41.10 M61.2 43.15 L71.7 43.15 M61.2 45.20 L71.7 45.20 M61.2 47.25 L71.7 47.25 M61.2 49.30 L71.7 49.30 M61.2 51.35 L71.7 51.35 M61.2 53.40 L71.7 53.40 M61.2 55.45 L71.7 55.45 M61.2 57.50 L71.7 57.50 M61.2 59.55 L71.7 59.55" stroke="#fff" stroke-width="0.75" fill="none" opacity="0.85"/>
<path d="M0.5 37 L0.5 202 L9 212.5 L12.3 212.5" stroke="#1a1a1a" stroke-width="1.6" fill="none" stroke-linejoin="round"/>
<path d="M0.5 37 L4.8 33.5 L10 33.5" stroke="#1a1a1a" stroke-width="1.6" fill="none" stroke-linejoin="round"/>
<path d="M4.8 34 L4.8 206" stroke="#1a1a1a" stroke-width="1.6" fill="none" stroke-linejoin="round"/>
<path d="M10 33.5 L10 211" stroke="#1a1a1a" stroke-width="1.6" fill="none" stroke-linejoin="round"/>
<path d="M12.3 35 L12.3 213" stroke="#1a1a1a" stroke-width="1.6" fill="none" stroke-linejoin="round"/>
<path d="M17.1 34 L17.1 202 L30.5 211 L30.5 36 L28.5 33.5" stroke="#1a1a1a" stroke-width="1.6" fill="none" stroke-linejoin="round"/>
<path d="M17.1 202 L19 213 L29 213.5 L30.5 211" stroke="#1a1a1a" stroke-width="1.6" fill="none" stroke-linejoin="round"/>
<path d="M33.8 33.5 L34.2 212" stroke="#1a1a1a" stroke-width="1.6" fill="none" stroke-linejoin="round"/>
<path d="M12.3 35 Q14.5 31 17.1 34" stroke="#1a1a1a" stroke-width="1.6" fill="none" stroke-linejoin="round"/>
<path d="M28.5 33.5 Q31 30.5 33.8 33.5" stroke="#1a1a1a" stroke-width="1.6" fill="none" stroke-linejoin="round"/>
<path d="M36.3 33 L36.3 212 L60.8 212 L60.8 33" stroke="#1a1a1a" stroke-width="1.6" fill="none" stroke-linejoin="round"/>
<path d="M36.3 33 L47.5 41 L60.8 33 M47.5 41 L47.5 200.5 L37.5 210.5 M47.5 200.5 L59.8 210.5 M37.5 210.5 L59.8 210.5" stroke="#1a1a1a" stroke-width="1.6" fill="none" stroke-linejoin="round"/>
<path d="M61.2 62.5 L61.2 212 M72.5 62.5 L72.5 212" stroke="#1a1a1a" stroke-width="1.6" fill="none" stroke-linejoin="round"/>
<path d="M64.5 62.5 L64.5 80 M69.5 62.5 L69.5 80 M63 80 L70.5 80" stroke="#1a1a1a" stroke-width="1.6" fill="none" stroke-linejoin="round"/>
<path d="M63.5 94 L63.3 89 Q64 84 66.8 81 Q69.5 84 70.2 89 L70.3 94 Q68 92 66.8 94 Q65.5 92 63.5 94" stroke="#1a1a1a" stroke-width="1.6" fill="none" stroke-linejoin="round"/>
<path d="M62.3 94 L62.3 115 Q66.8 113.5 71.8 115 L71.8 94" stroke="#1a1a1a" stroke-width="1.6" fill="none" stroke-linejoin="round"/>
<path d="M64.8 116 L64.8 212 M67.5 116 L67.5 212" stroke="#1a1a1a" stroke-width="1.6" fill="none" stroke-linejoin="round"/>
<path d="M73.8 33 L73.8 212 L95.2 212 L95.2 33" stroke="#1a1a1a" stroke-width="1.6" fill="none" stroke-linejoin="round"/>
<path d="M73.8 33 L87.8 41 L95.2 33 M87.8 41 L87.8 201.5 L75 210.5 M87.8 201.5 L94.5 210.5 M75 210.5 L94.5 210.5" stroke="#1a1a1a" stroke-width="1.6" fill="none" stroke-linejoin="round"/>
<path d="M99.2 34 L99.2 212 L105.8 210 L105.8 34" stroke="#1a1a1a" stroke-width="1.6" fill="none" stroke-linejoin="round"/>
<path d="M108.5 34 L108.5 208 L117.8 200 L117.8 34" stroke="#1a1a1a" stroke-width="1.6" fill="none" stroke-linejoin="round"/>
<path d="M108.5 208 L112 212 L119 211 L120.5 205" stroke="#1a1a1a" stroke-width="1.6" fill="none" stroke-linejoin="round"/>
<path d="M120.5 34 L120.5 205" stroke="#1a1a1a" stroke-width="1.6" fill="none" stroke-linejoin="round"/>
<path d="M125.8 35 L125.8 202" stroke="#1a1a1a" stroke-width="1.6" fill="none" stroke-linejoin="round"/>
<path d="M128.5 38 L128.5 201 L120.5 210" stroke="#1a1a1a" stroke-width="1.6" fill="none" stroke-linejoin="round"/>
<path d="M125.8 35 L128.5 38" stroke="#1a1a1a" stroke-width="1.6" fill="none" stroke-linejoin="round"/>
<path d="M95.2 33.5 Q97 30.5 99.2 34" stroke="#1a1a1a" stroke-width="1.6" fill="none" stroke-linejoin="round"/>
<path d="M105.8 34 Q107 31 108.5 34" stroke="#1a1a1a" stroke-width="1.6" fill="none" stroke-linejoin="round"/>
<path d="M117.8 34 Q119 31.5 120.5 34" stroke="#1a1a1a" stroke-width="1.6" fill="none" stroke-linejoin="round"/>
</g>
<g transform="translate(431.5 363.5)">
<path d="M-1 34 L-1 204 L9 214 L120 214 L130 204 L130 34 L128 26 L126 4 L96 0 L78 -1 L70 -4 L69 -12 L53 -12 L53 -4 L45 -1 L30 1 L3 4 Z" fill="#fff" stroke="none"/>
<path d="M54 -3.4 L54 -8.5 Q54 -12.3 61 -12.3 Q68 -12.3 68 -8.5 L68 -3.4" stroke="#1a1a1a" stroke-width="1.6" fill="#fff" stroke-linejoin="round"/>
<path d="M43 1.5 Q45 -3.5 54 -3.6 L68 -3.6 Q77 -3.5 79 1.5" stroke="#1a1a1a" stroke-width="1.6" fill="#fff" stroke-linejoin="round"/>
<path d="M60.8 1 L60.8 27 M69.8 1 L69.8 27" stroke="#1a1a1a" stroke-width="1.6" fill="none" stroke-linejoin="round"/>
<path d="M28.5 12 L34.5 11.5 L34.5 22 L28.5 22 Z" stroke="#1a1a1a" stroke-width="1.6" fill="#fff" stroke-linejoin="round"/>
<path d="M95.5 7 L102 6 L102 18 L95.5 18 Z" stroke="#1a1a1a" stroke-width="1.6" fill="#fff" stroke-linejoin="round"/>
<polygon points="34.2,1.2 60.8,0.8 60.8,25.6 34.8,26" stroke="#1a1a1a" stroke-width="1.6" fill="#fff" stroke-linejoin="round"/>
<path d="M35.7 2.7 L59.3 24.1 M59.3 2.3 L36.3 24.5" stroke="#1a1a1a" stroke-width="1.6" fill="none" stroke-linejoin="round"/>
<polygon points="69.8,0.8 95.2,1.2 95.2,25 70.2,25.2" stroke="#1a1a1a" stroke-width="1.6" fill="#fff" stroke-linejoin="round"/>
<path d="M71.3 2.3 L93.7 23.5 M93.7 2.7 L71.7 23.7" stroke="#1a1a1a" stroke-width="1.6" fill="none" stroke-linejoin="round"/>
<polygon points="11,3.5 27.8,0.8 29,25.5 13,27" stroke="#1a1a1a" stroke-width="1.6" fill="#fff" stroke-linejoin="round"/>
<path d="M12.5 5.0 L27.5 24.0 M26.3 2.3 L14.5 25.5" stroke="#1a1a1a" stroke-width="1.6" fill="none" stroke-linejoin="round"/>
<polygon points="101.8,0.5 117.5,2.5 118.5,27 103,26.5" stroke="#1a1a1a" stroke-width="1.6" fill="#fff" stroke-linejoin="round"/>
<path d="M103.3 2.0 L117.0 25.5 M116.0 4.0 L104.5 25.0" stroke="#1a1a1a" stroke-width="1.6" fill="none" stroke-linejoin="round"/>
<path d="M15 3 L15 26.5 M99.5 1 L100 26" stroke="#1a1a1a" stroke-width="1.6" fill="none" stroke-linejoin="round"/>
<path d="M11 3.5 L4 9 L1.5 20 L4 28 L13 27" stroke="#1a1a1a" stroke-width="1.6" fill="#fff" stroke-linejoin="round"/>
<path d="M6.5 7 L6 27" stroke="#1a1a1a" stroke-width="1.6" fill="none" stroke-linejoin="round"/>
<path d="M117.5 2.5 L121.5 4 L125.5 12 L126 24 L118.5 27" stroke="#1a1a1a" stroke-width="1.6" fill="#fff" stroke-linejoin="round"/>
<path d="M121.5 4 L122 26" stroke="#1a1a1a" stroke-width="1.6" fill="none" stroke-linejoin="round"/>
<ellipse cx="64" cy="29.5" rx="64.5" ry="4.3" stroke="#1a1a1a" stroke-width="1.6" fill="#fff" stroke-linejoin="round"/>
<path d="M20 30.5 Q64 24.5 108 30.5" stroke="#1a1a1a" stroke-width="1.6" fill="none" stroke-linejoin="round"/>
<path d="M17.5 22 L17.5 35 M15.5 31 L17.5 35 L19.5 31" stroke="#1a1a1a" stroke-width="1.6" fill="none" stroke-linejoin="round"/>
<path d="M47.5 22 L47.5 35 M45.5 31 L47.5 35 L49.5 31" stroke="#1a1a1a" stroke-width="1.6" fill="none" stroke-linejoin="round"/>
<path d="M86 22 L86 35 M84 31 L86 35 L88 31" stroke="#1a1a1a" stroke-width="1.6" fill="none" stroke-linejoin="round"/>
<path d="M114.5 22 L114.5 35 M112.5 31 L114.5 35 L116.5 31" stroke="#1a1a1a" stroke-width="1.6" fill="none" stroke-linejoin="round"/>
<rect x="60" y="34.5" width="12.9" height="28.3" fill="#222" stroke="#111" stroke-width="1.4"/>
<path d="M61.2 37.00 L71.7 37.00 M61.2 39.05 L71.7 39.05 M61.2 41.10 L71.7 41.10 M61.2 43.15 L71.7 43.15 M61.2 45.20 L71.7 45.20 M61.2 47.25 L71.7 47.25 M61.2 49.30 L71.7 49.30 M61.2 51.35 L71.7 51.35 M61.2 53.40 L71.7 53.40 M61.2 55.45 L71.7 55.45 M61.2 57.50 L71.7 57.50 M61.2 59.55 L71.7 59.55" stroke="#fff" stroke-width="0.75" fill="none" opacity="0.85"/>
<path d="M0.5 37 L0.5 202 L9 212.5 L12.3 212.5" stroke="#1a1a1a" stroke-width="1.6" fill="none" stroke-linejoin="round"/>
<path d="M0.5 37 L4.8 33.5 L10 33.5" stroke="#1a1a1a" stroke-width="1.6" fill="none" stroke-linejoin="round"/>
<path d="M4.8 34 L4.8 206" stroke="#1a1a1a" stroke-width="1.6" fill="none" stroke-linejoin="round"/>
<path d="M10 33.5 L10 211" stroke="#1a1a1a" stroke-width="1.6" fill="none" stroke-linejoin="round"/>
<path d="M12.3 35 L12.3 213" stroke="#1a1a1a" stroke-width="1.6" fill="none" stroke-linejoin="round"/>
<path d="M17.1 34 L17.1 202 L30.5 211 L30.5 36 L28.5 33.5" stroke="#1a1a1a" stroke-width="1.6" fill="none" stroke-linejoin="round"/>
<path d="M17.1 202 L19 213 L29 213.5 L30.5 211" stroke="#1a1a1a" stroke-width="1.6" fill="none" stroke-linejoin="round"/>
<path d="M33.8 33.5 L34.2 212" stroke="#1a1a1a" stroke-width="1.6" fill="none" stroke-linejoin="round"/>
<path d="M12.3 35 Q14.5 31 17.1 34" stroke="#1a1a1a" stroke-width="1.6" fill="none" stroke-linejoin="round"/>
<path d="M28.5 33.5 Q31 30.5 33.8 33.5" stroke="#1a1a1a" stroke-width="1.6" fill="none" stroke-linejoin="round"/>
<path d="M36.3 33 L36.3 212 L60.8 212 L60.8 33" stroke="#1a1a1a" stroke-width="1.6" fill="none" stroke-linejoin="round"/>
<path d="M36.3 33 L47.5 41 L60.8 33 M47.5 41 L47.5 200.5 L37.5 210.5 M47.5 200.5 L59.8 210.5 M37.5 210.5 L59.8 210.5" stroke="#1a1a1a" stroke-width="1.6" fill="none" stroke-linejoin="round"/>
<path d="M61.2 62.5 L61.2 212 M72.5 62.5 L72.5 212" stroke="#1a1a1a" stroke-width="1.6" fill="none" stroke-linejoin="round"/>
<path d="M64.5 62.5 L64.5 80 M69.5 62.5 L69.5 80 M63 80 L70.5 80" stroke="#1a1a1a" stroke-width="1.6" fill="none" stroke-linejoin="round"/>
<path d="M63.5 94 L63.3 89 Q64 84 66.8 81 Q69.5 84 70.2 89 L70.3 94 Q68 92 66.8 94 Q65.5 92 63.5 94" stroke="#1a1a1a" stroke-width="1.6" fill="none" stroke-linejoin="round"/>
<path d="M62.3 94 L62.3 115 Q66.8 113.5 71.8 115 L71.8 94" stroke="#1a1a1a" stroke-width="1.6" fill="none" stroke-linejoin="round"/>
<path d="M64.8 116 L64.8 212 M67.5 116 L67.5 212" stroke="#1a1a1a" stroke-width="1.6" fill="none" stroke-linejoin="round"/>
<path d="M73.8 33 L73.8 212 L95.2 212 L95.2 33" stroke="#1a1a1a" stroke-width="1.6" fill="none" stroke-linejoin="round"/>
<path d="M73.8 33 L87.8 41 L95.2 33 M87.8 41 L87.8 201.5 L75 210.5 M87.8 201.5 L94.5 210.5 M75 210.5 L94.5 210.5" stroke="#1a1a1a" stroke-width="1.6" fill="none" stroke-linejoin="round"/>
<path d="M99.2 34 L99.2 212 L105.8 210 L105.8 34" stroke="#1a1a1a" stroke-width="1.6" fill="none" stroke-linejoin="round"/>
<path d="M108.5 34 L108.5 208 L117.8 200 L117.8 34" stroke="#1a1a1a" stroke-width="1.6" fill="none" stroke-linejoin="round"/>
<path d="M108.5 208 L112 212 L119 211 L120.5 205" stroke="#1a1a1a" stroke-width="1.6" fill="none" stroke-linejoin="round"/>
<path d="M120.5 34 L120.5 205" stroke="#1a1a1a" stroke-width="1.6" fill="none" stroke-linejoin="round"/>
<path d="M125.8 35 L125.8 202" stroke="#1a1a1a" stroke-width="1.6" fill="none" stroke-linejoin="round"/>
<path d="M128.5 38 L128.5 201 L120.5 210" stroke="#1a1a1a" stroke-width="1.6" fill="none" stroke-linejoin="round"/>
<path d="M125.8 35 L128.5 38" stroke="#1a1a1a" stroke-width="1.6" fill="none" stroke-linejoin="round"/>
<path d="M95.2 33.5 Q97 30.5 99.2 34" stroke="#1a1a1a" stroke-width="1.6" fill="none" stroke-linejoin="round"/>
<path d="M105.8 34 Q107 31 108.5 34" stroke="#1a1a1a" stroke-width="1.6" fill="none" stroke-linejoin="round"/>
<path d="M117.8 34 Q119 31.5 120.5 34" stroke="#1a1a1a" stroke-width="1.6" fill="none" stroke-linejoin="round"/>
</g>
<g transform="translate(662.5 318.5)">
<path d="M-1 34 L-1 204 L9 214 L120 214 L130 204 L130 34 L128 26 L126 4 L96 0 L78 -1 L70 -4 L69 -12 L53 -12 L53 -4 L45 -1 L30 1 L3 4 Z" fill="#fff" stroke="none"/>
<path d="M54 -3.4 L54 -8.5 Q54 -12.3 61 -12.3 Q68 -12.3 68 -8.5 L68 -3.4" stroke="#1a1a1a" stroke-width="1.6" fill="#fff" stroke-linejoin="round"/>
<path d="M43 1.5 Q45 -3.5 54 -3.6 L68 -3.6 Q77 -3.5 79 1.5" stroke="#1a1a1a" stroke-width="1.6" fill="#fff" stroke-linejoin="round"/>
<path d="M60.8 1 L60.8 27 M69.8 1 L69.8 27" stroke="#1a1a1a" stroke-width="1.6" fill="none" stroke-linejoin="round"/>
<path d="M28.5 12 L34.5 11.5 L34.5 22 L28.5 22 Z" stroke="#1a1a1a" stroke-width="1.6" fill="#fff" stroke-linejoin="round"/>
<path d="M95.5 7 L102 6 L102 18 L95.5 18 Z" stroke="#1a1a1a" stroke-width="1.6" fill="#fff" stroke-linejoin="round"/>
<polygon points="34.2,1.2 60.8,0.8 60.8,25.6 34.8,26" stroke="#1a1a1a" stroke-width="1.6" fill="#fff" stroke-linejoin="round"/>
<path d="M35.7 2.7 L59.3 24.1 M59.3 2.3 L36.3 24.5" stroke="#1a1a1a" stroke-width="1.6" fill="none" stroke-linejoin="round"/>
<polygon points="69.8,0.8 95.2,1.2 95.2,25 70.2,25.2" stroke="#1a1a1a" stroke-width="1.6" fill="#fff" stroke-linejoin="round"/>
<path d="M71.3 2.3 L93.7 23.5 M93.7 2.7 L71.7 23.7" stroke="#1a1a1a" stroke-width="1.6" fill="none" stroke-linejoin="round"/>
<polygon points="11,3.5 27.8,0.8 29,25.5 13,27" stroke="#1a1a1a" stroke-width="1.6" fill="#fff" stroke-linejoin="round"/>
<path d="M12.5 5.0 L27.5 24.0 M26.3 2.3 L14.5 25.5" stroke="#1a1a1a" stroke-width="1.6" fill="none" stroke-linejoin="round"/>
<polygon points="101.8,0.5 117.5,2.5 118.5,27 103,26.5" stroke="#1a1a1a" stroke-width="1.6" fill="#fff" stroke-linejoin="round"/>
<path d="M103.3 2.0 L117.0 25.5 M116.0 4.0 L104.5 25.0" stroke="#1a1a1a" stroke-width="1.6" fill="none" stroke-linejoin="round"/>
<path d="M15 3 L15 26.5 M99.5 1 L100 26" stroke="#1a1a1a" stroke-width="1.6" fill="none" stroke-linejoin="round"/>
<path d="M11 3.5 L4 9 L1.5 20 L4 28 L13 27" stroke="#1a1a1a" stroke-width="1.6" fill="#fff" stroke-linejoin="round"/>
<path d="M6.5 7 L6 27" stroke="#1a1a1a" stroke-width="1.6" fill="none" stroke-linejoin="round"/>
<path d="M117.5 2.5 L121.5 4 L125.5 12 L126 24 L118.5 27" stroke="#1a1a1a" stroke-width="1.6" fill="#fff" stroke-linejoin="round"/>
<path d="M121.5 4 L122 26" stroke="#1a1a1a" stroke-width="1.6" fill="none" stroke-linejoin="round"/>
<ellipse cx="64" cy="29.5" rx="64.5" ry="4.3" stroke="#1a1a1a" stroke-width="1.6" fill="#fff" stroke-linejoin="round"/>
<path d="M20 30.5 Q64 24.5 108 30.5" stroke="#1a1a1a" stroke-width="1.6" fill="none" stroke-linejoin="round"/>
<path d="M17.5 22 L17.5 35 M15.5 31 L17.5 35 L19.5 31" stroke="#1a1a1a" stroke-width="1.6" fill="none" stroke-linejoin="round"/>
<path d="M47.5 22 L47.5 35 M45.5 31 L47.5 35 L49.5 31" stroke="#1a1a1a" stroke-width="1.6" fill="none" stroke-linejoin="round"/>
<path d="M86 22 L86 35 M84 31 L86 35 L88 31" stroke="#1a1a1a" stroke-width="1.6" fill="none" stroke-linejoin="round"/>
<path d="M114.5 22 L114.5 35 M112.5 31 L114.5 35 L116.5 31" stroke="#1a1a1a" stroke-width="1.6" fill="none" stroke-linejoin="round"/>
<rect x="60" y="34.5" width="12.9" height="28.3" fill="#222" stroke="#111" stroke-width="1.4"/>
<path d="M61.2 37.00 L71.7 37.00 M61.2 39.05 L71.7 39.05 M61.2 41.10 L71.7 41.10 M61.2 43.15 L71.7 43.15 M61.2 45.20 L71.7 45.20 M61.2 47.25 L71.7 47.25 M61.2 49.30 L71.7 49.30 M61.2 51.35 L71.7 51.35 M61.2 53.40 L71.7 53.40 M61.2 55.45 L71.7 55.45 M61.2 57.50 L71.7 57.50 M61.2 59.55 L71.7 59.55" stroke="#fff" stroke-width="0.75" fill="none" opacity="0.85"/>
<path d="M0.5 37 L0.5 202 L9 212.5 L12.3 212.5" stroke="#1a1a1a" stroke-width="1.6" fill="none" stroke-linejoin="round"/>
<path d="M0.5 37 L4.8 33.5 L10 33.5" stroke="#1a1a1a" stroke-width="1.6" fill="none" stroke-linejoin="round"/>
<path d="M4.8 34 L4.8 206" stroke="#1a1a1a" stroke-width="1.6" fill="none" stroke-linejoin="round"/>
<path d="M10 33.5 L10 211" stroke="#1a1a1a" stroke-width="1.6" fill="none" stroke-linejoin="round"/>
<path d="M12.3 35 L12.3 213" stroke="#1a1a1a" stroke-width="1.6" fill="none" stroke-linejoin="round"/>
<path d="M17.1 34 L17.1 202 L30.5 211 L30.5 36 L28.5 33.5" stroke="#1a1a1a" stroke-width="1.6" fill="none" stroke-linejoin="round"/>
<path d="M17.1 202 L19 213 L29 213.5 L30.5 211" stroke="#1a1a1a" stroke-width="1.6" fill="none" stroke-linejoin="round"/>
<path d="M33.8 33.5 L34.2 212" stroke="#1a1a1a" stroke-width="1.6" fill="none" stroke-linejoin="round"/>
<path d="M12.3 35 Q14.5 31 17.1 34" stroke="#1a1a1a" stroke-width="1.6" fill="none" stroke-linejoin="round"/>
<path d="M28.5 33.5 Q31 30.5 33.8 33.5" stroke="#1a1a1a" stroke-width="1.6" fill="none" stroke-linejoin="round"/>
<path d="M36.3 33 L36.3 212 L60.8 212 L60.8 33" stroke="#1a1a1a" stroke-width="1.6" fill="none" stroke-linejoin="round"/>
<path d="M36.3 33 L47.5 41 L60.8 33 M47.5 41 L47.5 200.5 L37.5 210.5 M47.5 200.5 L59.8 210.5 M37.5 210.5 L59.8 210.5" stroke="#1a1a1a" stroke-width="1.6" fill="none" stroke-linejoin="round"/>
<path d="M61.2 62.5 L61.2 212 M72.5 62.5 L72.5 212" stroke="#1a1a1a" stroke-width="1.6" fill="none" stroke-linejoin="round"/>
<path d="M64.5 62.5 L64.5 80 M69.5 62.5 L69.5 80 M63 80 L70.5 80" stroke="#1a1a1a" stroke-width="1.6" fill="none" stroke-linejoin="round"/>
<path d="M63.5 94 L63.3 89 Q64 84 66.8 81 Q69.5 84 70.2 89 L70.3 94 Q68 92 66.8 94 Q65.5 92 63.5 94" stroke="#1a1a1a" stroke-width="1.6" fill="none" stroke-linejoin="round"/>
<path d="M62.3 94 L62.3 115 Q66.8 113.5 71.8 115 L71.8 94" stroke="#1a1a1a" stroke-width="1.6" fill="none" stroke-linejoin="round"/>
<path d="M64.8 116 L64.8 212 M67.5 116 L67.5 212" stroke="#1a1a1a" stroke-width="1.6" fill="none" stroke-linejoin="round"/>
<path d="M73.8 33 L73.8 212 L95.2 212 L95.2 33" stroke="#1a1a1a" stroke-width="1.6" fill="none" stroke-linejoin="round"/>
<path d="M73.8 33 L87.8 41 L95.2 33 M87.8 41 L87.8 201.5 L75 210.5 M87.8 201.5 L94.5 210.5 M75 210.5 L94.5 210.5" stroke="#1a1a1a" stroke-width="1.6" fill="none" stroke-linejoin="round"/>
<path d="M99.2 34 L99.2 212 L105.8 210 L105.8 34" stroke="#1a1a1a" stroke-width="1.6" fill="none" stroke-linejoin="round"/>
<path d="M108.5 34 L108.5 208 L117.8 200 L117.8 34" stroke="#1a1a1a" stroke-width="1.6" fill="none" stroke-linejoin="round"/>
<path d="M108.5 208 L112 212 L119 211 L120.5 205" stroke="#1a1a1a" stroke-width="1.6" fill="none" stroke-linejoin="round"/>
<path d="M120.5 34 L120.5 205" stroke="#1a1a1a" stroke-width="1.6" fill="none" stroke-linejoin="round"/>
<path d="M125.8 35 L125.8 202" stroke="#1a1a1a" stroke-width="1.6" fill="none" stroke-linejoin="round"/>
<path d="M128.5 38 L128.5 201 L120.5 210" stroke="#1a1a1a" stroke-width="1.6" fill="none" stroke-linejoin="round"/>
<path d="M125.8 35 L128.5 38" stroke="#1a1a1a" stroke-width="1.6" fill="none" stroke-linejoin="round"/>
<path d="M95.2 33.5 Q97 30.5 99.2 34" stroke="#1a1a1a" stroke-width="1.6" fill="none" stroke-linejoin="round"/>
<path d="M105.8 34 Q107 31 108.5 34" stroke="#1a1a1a" stroke-width="1.6" fill="none" stroke-linejoin="round"/>
<path d="M117.8 34 Q119 31.5 120.5 34" stroke="#1a1a1a" stroke-width="1.6" fill="none" stroke-linejoin="round"/>
</g>
<g transform="translate(854.5 297.5)">
<path d="M-1 34 L-1 204 L9 214 L120 214 L130 204 L130 34 L128 26 L126 4 L96 0 L78 -1 L70 -4 L69 -12 L53 -12 L53 -4 L45 -1 L30 1 L3 4 Z" fill="#fff" stroke="none"/>
<path d="M54 -3.4 L54 -8.5 Q54 -12.3 61 -12.3 Q68 -12.3 68 -8.5 L68 -3.4" stroke="#1a1a1a" stroke-width="1.6" fill="#fff" stroke-linejoin="round"/>
<path d="M43 1.5 Q45 -3.5 54 -3.6 L68 -3.6 Q77 -3.5 79 1.5" stroke="#1a1a1a" stroke-width="1.6" fill="#fff" stroke-linejoin="round"/>
<path d="M60.8 1 L60.8 27 M69.8 1 L69.8 27" stroke="#1a1a1a" stroke-width="1.6" fill="none" stroke-linejoin="round"/>
<path d="M28.5 12 L34.5 11.5 L34.5 22 L28.5 22 Z" stroke="#1a1a1a" stroke-width="1.6" fill="#fff" stroke-linejoin="round"/>
<path d="M95.5 7 L102 6 L102 18 L95.5 18 Z" stroke="#1a1a1a" stroke-width="1.6" fill="#fff" stroke-linejoin="round"/>
<polygon points="34.2,1.2 60.8,0.8 60.8,25.6 34.8,26" stroke="#1a1a1a" stroke-width="1.6" fill="#fff" stroke-linejoin="round"/>
<path d="M35.7 2.7 L59.3 24.1 M59.3 2.3 L36.3 24.5" stroke="#1a1a1a" stroke-width="1.6" fill="none" stroke-linejoin="round"/>
<polygon points="69.8,0.8 95.2,1.2 95.2,25 70.2,25.2" stroke="#1a1a1a" stroke-width="1.6" fill="#fff" stroke-linejoin="round"/>
<path d="M71.3 2.3 L93.7 23.5 M93.7 2.7 L71.7 23.7" stroke="#1a1a1a" stroke-width="1.6" fill="none" stroke-linejoin="round"/>
<polygon points="11,3.5 27.8,0.8 29,25.5 13,27" stroke="#1a1a1a" stroke-width="1.6" fill="#fff" stroke-linejoin="round"/>
<path d="M12.5 5.0 L27.5 24.0 M26.3 2.3 L14.5 25.5" stroke="#1a1a1a" stroke-width="1.6" fill="none" stroke-linejoin="round"/>
<polygon points="101.8,0.5 117.5,2.5 118.5,27 103,26.5" stroke="#1a1a1a" stroke-width="1.6" fill="#fff" stroke-linejoin="round"/>
<path d="M103.3 2.0 L117.0 25.5 M116.0 4.0 L104.5 25.0" stroke="#1a1a1a" stroke-width="1.6" fill="none" stroke-linejoin="round"/>
<path d="M15 3 L15 26.5 M99.5 1 L100 26" stroke="#1a1a1a" stroke-width="1.6" fill="none" stroke-linejoin="round"/>
<path d="M11 3.5 L4 9 L1.5 20 L4 28 L13 27" stroke="#1a1a1a" stroke-width="1.6" fill="#fff" stroke-linejoin="round"/>
<path d="M6.5 7 L6 27" stroke="#1a1a1a" stroke-width="1.6" fill="none" stroke-linejoin="round"/>
<path d="M117.5 2.5 L121.5 4 L125.5 12 L126 24 L118.5 27" stroke="#1a1a1a" stroke-width="1.6" fill="#fff" stroke-linejoin="round"/>
<path d="M121.5 4 L122 26" stroke="#1a1a1a" stroke-width="1.6" fill="none" stroke-linejoin="round"/>
<ellipse cx="64" cy="29.5" rx="64.5" ry="4.3" stroke="#1a1a1a" stroke-width="1.6" fill="#fff" stroke-linejoin="round"/>
<path d="M20 30.5 Q64 24.5 108 30.5" stroke="#1a1a1a" stroke-width="1.6" fill="none" stroke-linejoin="round"/>
<path d="M17.5 22 L17.5 35 M15.5 31 L17.5 35 L19.5 31" stroke="#1a1a1a" stroke-width="1.6" fill="none" stroke-linejoin="round"/>
<path d="M47.5 22 L47.5 35 M45.5 31 L47.5 35 L49.5 31" stroke="#1a1a1a" stroke-width="1.6" fill="none" stroke-linejoin="round"/>
<path d="M86 22 L86 35 M84 31 L86 35 L88 31" stroke="#1a1a1a" stroke-width="1.6" fill="none" stroke-linejoin="round"/>
<path d="M114.5 22 L114.5 35 M112.5 31 L114.5 35 L116.5 31" stroke="#1a1a1a" stroke-width="1.6" fill="none" stroke-linejoin="round"/>
<rect x="60" y="34.5" width="12.9" height="28.3" fill="#222" stroke="#111" stroke-width="1.4"/>
<path d="M61.2 37.00 L71.7 37.00 M61.2 39.05 L71.7 39.05 M61.2 41.10 L71.7 41.10 M61.2 43.15 L71.7 43.15 M61.2 45.20 L71.7 45.20 M61.2 47.25 L71.7 47.25 M61.2 49.30 L71.7 49.30 M61.2 51.35 L71.7 51.35 M61.2 53.40 L71.7 53.40 M61.2 55.45 L71.7 55.45 M61.2 57.50 L71.7 57.50 M61.2 59.55 L71.7 59.55" stroke="#fff" stroke-width="0.75" fill="none" opacity="0.85"/>
<path d="M0.5 37 L0.5 202 L9 212.5 L12.3 212.5" stroke="#1a1a1a" stroke-width="1.6" fill="none" stroke-linejoin="round"/>
<path d="M0.5 37 L4.8 33.5 L10 33.5" stroke="#1a1a1a" stroke-width="1.6" fill="none" stroke-linejoin="round"/>
<path d="M4.8 34 L4.8 206" stroke="#1a1a1a" stroke-width="1.6" fill="none" stroke-linejoin="round"/>
<path d="M10 33.5 L10 211" stroke="#1a1a1a" stroke-width="1.6" fill="none" stroke-linejoin="round"/>
<path d="M12.3 35 L12.3 213" stroke="#1a1a1a" stroke-width="1.6" fill="none" stroke-linejoin="round"/>
<path d="M17.1 34 L17.1 202 L30.5 211 L30.5 36 L28.5 33.5" stroke="#1a1a1a" stroke-width="1.6" fill="none" stroke-linejoin="round"/>
<path d="M17.1 202 L19 213 L29 213.5 L30.5 211" stroke="#1a1a1a" stroke-width="1.6" fill="none" stroke-linejoin="round"/>
<path d="M33.8 33.5 L34.2 212" stroke="#1a1a1a" stroke-width="1.6" fill="none" stroke-linejoin="round"/>
<path d="M12.3 35 Q14.5 31 17.1 34" stroke="#1a1a1a" stroke-width="1.6" fill="none" stroke-linejoin="round"/>
<path d="M28.5 33.5 Q31 30.5 33.8 33.5" stroke="#1a1a1a" stroke-width="1.6" fill="none" stroke-linejoin="round"/>
<path d="M36.3 33 L36.3 212 L60.8 212 L60.8 33" stroke="#1a1a1a" stroke-width="1.6" fill="none" stroke-linejoin="round"/>
<path d="M36.3 33 L47.5 41 L60.8 33 M47.5 41 L47.5 200.5 L37.5 210.5 M47.5 200.5 L59.8 210.5 M37.5 210.5 L59.8 210.5" stroke="#1a1a1a" stroke-width="1.6" fill="none" stroke-linejoin="round"/>
<path d="M61.2 62.5 L61.2 212 M72.5 62.5 L72.5 212" stroke="#1a1a1a" stroke-width="1.6" fill="none" stroke-linejoin="round"/>
<path d="M64.5 62.5 L64.5 80 M69.5 62.5 L69.5 80 M63 80 L70.5 80" stroke="#1a1a1a" stroke-width="1.6" fill="none" stroke-linejoin="round"/>
<path d="M63.5 94 L63.3 89 Q64 84 66.8 81 Q69.5 84 70.2 89 L70.3 94 Q68 92 66.8 94 Q65.5 92 63.5 94" stroke="#1a1a1a" stroke-width="1.6" fill="none" stroke-linejoin="round"/>
<path d="M62.3 94 L62.3 115 Q66.8 113.5 71.8 115 L71.8 94" stroke="#1a1a1a" stroke-width="1.6" fill="none" stroke-linejoin="round"/>
<path d="M64.8 116 L64.8 212 M67.5 116 L67.5 212" stroke="#1a1a1a" stroke-width="1.6" fill="none" stroke-linejoin="round"/>
<path d="M73.8 33 L73.8 212 L95.2 212 L95.2 33" stroke="#1a1a1a" stroke-width="1.6" fill="none" stroke-linejoin="round"/>
<path d="M73.8 33 L87.8 41 L95.2 33 M87.8 41 L87.8 201.5 L75 210.5 M87.8 201.5 L94.5 210.5 M75 210.5 L94.5 210.5" stroke="#1a1a1a" stroke-width="1.6" fill="none" stroke-linejoin="round"/>
<path d="M99.2 34 L99.2 212 L105.8 210 L105.8 34" stroke="#1a1a1a" stroke-width="1.6" fill="none" stroke-linejoin="round"/>
<path d="M108.5 34 L108.5 208 L117.8 200 L117.8 34" stroke="#1a1a1a" stroke-width="1.6" fill="none" stroke-linejoin="round"/>
<path d="M108.5 208 L112 212 L119 211 L120.5 205" stroke="#1a1a1a" stroke-width="1.6" fill="none" stroke-linejoin="round"/>
<path d="M120.5 34 L120.5 205" stroke="#1a1a1a" stroke-width="1.6" fill="none" stroke-linejoin="round"/>
<path d="M125.8 35 L125.8 202" stroke="#1a1a1a" stroke-width="1.6" fill="none" stroke-linejoin="round"/>
<path d="M128.5 38 L128.5 201 L120.5 210" stroke="#1a1a1a" stroke-width="1.6" fill="none" stroke-linejoin="round"/>
<path d="M125.8 35 L128.5 38" stroke="#1a1a1a" stroke-width="1.6" fill="none" stroke-linejoin="round"/>
<path d="M95.2 33.5 Q97 30.5 99.2 34" stroke="#1a1a1a" stroke-width="1.6" fill="none" stroke-linejoin="round"/>
<path d="M105.8 34 Q107 31 108.5 34" stroke="#1a1a1a" stroke-width="1.6" fill="none" stroke-linejoin="round"/>
<path d="M117.8 34 Q119 31.5 120.5 34" stroke="#1a1a1a" stroke-width="1.6" fill="none" stroke-linejoin="round"/>
</g>
</svg></body></html>
